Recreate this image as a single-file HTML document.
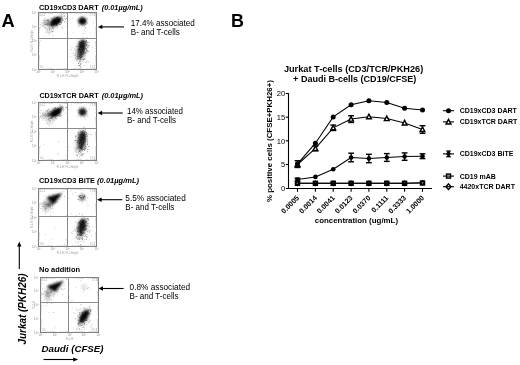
<!DOCTYPE html>
<html><head><meta charset="utf-8"><style>
html,body{margin:0;padding:0;background:#fff;}
svg{display:block;}
text{font-family:"Liberation Sans", Arial, sans-serif;}
</style></head><body>
<svg width="520" height="365" viewBox="0 0 520 365">
<defs><filter id="b0" x="-5%" y="-5%" width="110%" height="110%"><feGaussianBlur stdDeviation="0.35"/></filter><filter id="b1" x="-50%" y="-50%" width="200%" height="200%"><feGaussianBlur stdDeviation="0.9"/></filter><filter id="b2" x="-50%" y="-50%" width="200%" height="200%"><feGaussianBlur stdDeviation="1.6"/></filter></defs>
<rect width="520" height="365" fill="#fff"/>
<text x="1.6" y="26.8" font-size="18.3" font-weight="bold" font-style="normal" text-anchor="start" fill="#000" >A</text>
<text x="231.0" y="26.8" font-size="17.9" font-weight="bold" font-style="normal" text-anchor="start" fill="#000" >B</text>
<text x="39.0" y="9.5" font-size="7.3" font-weight="bold" textLength="59.6" lengthAdjust="spacingAndGlyphs">CD19xCD3 DART</text>
<text x="101.7" y="9.5" font-size="7.3" font-weight="bold" font-style="italic" textLength="41.0" lengthAdjust="spacingAndGlyphs">(0.01µg/mL)</text>
<text x="39.4" y="98.1" font-size="7.3" font-weight="bold" textLength="59.3" lengthAdjust="spacingAndGlyphs">CD19xTCR DART</text>
<text x="101.7" y="98.1" font-size="7.3" font-weight="bold" font-style="italic" textLength="41.4" lengthAdjust="spacingAndGlyphs">(0.01µg/mL)</text>
<text x="39.1" y="183.1" font-size="7.3" font-weight="bold" textLength="55.9" lengthAdjust="spacingAndGlyphs">CD19xCD3 BiTE</text>
<text x="97.1" y="183.1" font-size="7.3" font-weight="bold" font-style="italic" textLength="42.0" lengthAdjust="spacingAndGlyphs">(0.01µg/mL)</text>
<text x="39.0" y="271.8" font-size="7.4" font-weight="bold" textLength="41" lengthAdjust="spacingAndGlyphs">No addition</text>
<text x="130.8" y="26.2" font-size="8.6" font-weight="normal" font-style="normal" text-anchor="start" fill="#000" textLength="64" lengthAdjust="spacingAndGlyphs" >17.4% associated</text>
<text x="130.8" y="35.4" font-size="8.6" font-weight="normal" font-style="normal" text-anchor="start" fill="#000" textLength="49" lengthAdjust="spacingAndGlyphs" >B- and T-cells</text>
<line x1="123.9" y1="26.9" x2="101.3" y2="26.9" stroke="#000" stroke-width="1.1"/>
<polygon points="97.8,26.9 102.3,24.7 102.3,29.099999999999998" fill="#000"/>
<text x="127.0" y="113.8" font-size="8.6" font-weight="normal" font-style="normal" text-anchor="start" fill="#000" textLength="56" lengthAdjust="spacingAndGlyphs" >14% associated</text>
<text x="127.0" y="122.8" font-size="8.6" font-weight="normal" font-style="normal" text-anchor="start" fill="#000" textLength="49" lengthAdjust="spacingAndGlyphs" >B- and T-cells</text>
<line x1="122.7" y1="113.0" x2="101.1" y2="113.0" stroke="#000" stroke-width="1.1"/>
<polygon points="97.6,113.0 102.1,110.8 102.1,115.2" fill="#000"/>
<text x="125.3" y="200.9" font-size="8.6" font-weight="normal" font-style="normal" text-anchor="start" fill="#000" textLength="60.5" lengthAdjust="spacingAndGlyphs" >5.5% associated</text>
<text x="125.3" y="210.1" font-size="8.6" font-weight="normal" font-style="normal" text-anchor="start" fill="#000" textLength="49" lengthAdjust="spacingAndGlyphs" >B- and T-cells</text>
<line x1="122.3" y1="199.7" x2="100.6" y2="199.7" stroke="#000" stroke-width="1.1"/>
<polygon points="97.1,199.7 101.6,197.5 101.6,201.89999999999998" fill="#000"/>
<text x="129.6" y="289.7" font-size="8.6" font-weight="normal" font-style="normal" text-anchor="start" fill="#000" textLength="60.5" lengthAdjust="spacingAndGlyphs" >0.8% associated</text>
<text x="129.6" y="298.7" font-size="8.6" font-weight="normal" font-style="normal" text-anchor="start" fill="#000" textLength="49" lengthAdjust="spacingAndGlyphs" >B- and T-cells</text>
<line x1="123.6" y1="288.5" x2="102.0" y2="288.5" stroke="#000" stroke-width="1.1"/>
<polygon points="98.5,288.5 103.0,286.3 103.0,290.7" fill="#000"/>
<text transform="translate(25.6,344.5) rotate(-90)" font-size="10" font-weight="bold" font-style="italic" textLength="71" lengthAdjust="spacingAndGlyphs">Jurkat (PKH26)</text>
<line x1="19.3" y1="269" x2="19.3" y2="245" stroke="#000" stroke-width="1.1"/>
<polygon points="19.3,241.5 17.2,246.5 21.4,246.5" fill="#000"/>
<text x="41.5" y="351.5" font-size="9.6" font-weight="bold" font-style="italic" text-anchor="start" fill="#000" textLength="62" lengthAdjust="spacingAndGlyphs" >Daudi (CFSE)</text>
<line x1="43.5" y1="359.5" x2="74" y2="359.5" stroke="#000" stroke-width="1.1"/>
<polygon points="78.2,359.5 73.2,357.4 73.2,361.6" fill="#000"/>
<g>
<ellipse cx="51" cy="22" rx="9.5" ry="3.6" transform="rotate(-15 51 22)" fill="#000" fill-opacity="0.25" filter="url(#b2)"/>
<ellipse cx="50" cy="29.5" rx="2.4" ry="4.5" transform="rotate(25 50 29.5)" fill="#000" fill-opacity="0.14" filter="url(#b2)"/>
<ellipse cx="59.5" cy="18.5" rx="4" ry="2" transform="rotate(-40 59.5 18.5)" fill="#000" fill-opacity="0.4" filter="url(#b1)"/>
<polygon points="62,17.6 46.5,23.8 53,26.5" fill="#000" fill-opacity="0.6" filter="url(#b1)"/>
<ellipse cx="56" cy="21.5" rx="5.4" ry="3.7" transform="rotate(-33 56 21.5)" fill="#000" fill-opacity="0.95" filter="url(#b1)"/>
<ellipse cx="82.5" cy="21.2" rx="4.6" ry="4.4" transform="rotate(0 82.5 21.2)" fill="#000" fill-opacity="0.25" filter="url(#b2)"/>
<ellipse cx="82.4" cy="21.1" rx="3.8" ry="3.5" transform="rotate(0 82.4 21.1)" fill="#000" fill-opacity="0.95" filter="url(#b1)"/>
<ellipse cx="81" cy="50" rx="5.5" ry="11.5" transform="rotate(10 81 50)" fill="#000" fill-opacity="0.2" filter="url(#b2)"/>
<ellipse cx="81.5" cy="49" rx="3.3" ry="9" transform="rotate(9 81.5 49)" fill="#000" fill-opacity="0.7" filter="url(#b1)"/>
<ellipse cx="82.2" cy="44.5" rx="3.3" ry="4.5" transform="rotate(8 82.2 44.5)" fill="#000" fill-opacity="0.5" filter="url(#b1)"/>
<path d="M51.1 25.2h.8v.8h-.8zM58.0 18.5h.8v.8h-.8zM47.6 21.3h.8v.8h-.8zM53.8 20.8h.8v.8h-.8zM53.9 16.2h.8v.8h-.8zM60.5 18.9h.8v.8h-.8zM54.5 20.4h.8v.8h-.8zM47.7 23.8h.8v.8h-.8zM55.4 20.0h.8v.8h-.8zM49.4 23.9h.8v.8h-.8zM43.1 19.9h.8v.8h-.8zM52.2 19.7h.8v.8h-.8zM46.1 20.0h.8v.8h-.8zM39.9 24.8h.8v.8h-.8zM55.9 19.8h.8v.8h-.8zM45.2 24.3h.8v.8h-.8zM54.7 20.0h.8v.8h-.8zM54.4 23.5h.8v.8h-.8zM48.1 20.4h.8v.8h-.8zM52.5 22.0h.8v.8h-.8zM56.6 16.9h.8v.8h-.8zM45.0 21.2h.8v.8h-.8zM53.1 19.3h.8v.8h-.8zM59.9 21.5h.8v.8h-.8zM54.5 21.8h.8v.8h-.8zM55.6 17.1h.8v.8h-.8zM54.5 22.3h.8v.8h-.8zM48.8 24.3h.8v.8h-.8zM47.0 22.8h.8v.8h-.8zM51.8 19.3h.8v.8h-.8zM54.0 20.7h.8v.8h-.8zM53.0 19.8h.8v.8h-.8zM57.7 21.5h.8v.8h-.8zM49.2 23.8h.8v.8h-.8zM59.7 24.0h.8v.8h-.8zM39.9 27.0h.8v.8h-.8zM53.1 20.9h.8v.8h-.8zM44.0 26.9h.8v.8h-.8zM41.8 25.7h.8v.8h-.8zM57.8 15.8h.8v.8h-.8zM47.1 19.4h.8v.8h-.8zM52.6 25.2h.8v.8h-.8zM62.5 14.0h.8v.8h-.8zM46.6 24.7h.8v.8h-.8zM61.0 20.2h.8v.8h-.8zM45.1 24.1h.8v.8h-.8zM49.8 21.5h.8v.8h-.8zM45.3 24.3h.8v.8h-.8zM52.0 21.2h.8v.8h-.8zM47.7 19.3h.8v.8h-.8zM47.5 25.8h.8v.8h-.8zM47.8 18.9h.8v.8h-.8zM59.4 20.9h.8v.8h-.8zM64.3 18.3h.8v.8h-.8zM45.9 19.3h.8v.8h-.8zM60.6 25.8h.8v.8h-.8zM44.0 21.9h.8v.8h-.8zM53.5 18.9h.8v.8h-.8zM47.9 21.6h.8v.8h-.8zM52.0 24.3h.8v.8h-.8zM50.7 24.2h.8v.8h-.8zM47.4 23.6h.8v.8h-.8zM55.0 19.1h.8v.8h-.8zM54.3 22.3h.8v.8h-.8zM59.5 21.6h.8v.8h-.8zM56.8 19.9h.8v.8h-.8zM44.8 21.5h.8v.8h-.8zM46.0 20.2h.8v.8h-.8zM46.2 22.8h.8v.8h-.8zM51.5 20.7h.8v.8h-.8zM52.2 24.2h.8v.8h-.8zM53.5 19.4h.8v.8h-.8zM46.4 28.2h.8v.8h-.8zM56.3 25.1h.8v.8h-.8zM63.9 16.2h.8v.8h-.8zM52.9 22.4h.8v.8h-.8zM54.1 22.3h.8v.8h-.8zM51.5 22.1h.8v.8h-.8zM39.7 24.3h.8v.8h-.8zM45.0 23.7h.8v.8h-.8zM47.2 24.3h.8v.8h-.8zM55.7 21.3h.8v.8h-.8zM52.2 21.7h.8v.8h-.8zM46.9 22.4h.8v.8h-.8zM46.9 23.8h.8v.8h-.8zM49.2 32.2h.8v.8h-.8zM45.7 32.2h.8v.8h-.8zM49.2 26.6h.8v.8h-.8zM50.3 27.7h.8v.8h-.8zM51.5 28.1h.8v.8h-.8zM48.6 25.9h.8v.8h-.8zM53.0 31.3h.8v.8h-.8zM47.2 29.0h.8v.8h-.8zM43.9 35.4h.8v.8h-.8zM45.8 30.5h.8v.8h-.8zM53.3 25.0h.8v.8h-.8zM49.3 34.0h.8v.8h-.8zM50.7 31.4h.8v.8h-.8zM52.0 31.4h.8v.8h-.8zM51.0 29.8h.8v.8h-.8zM52.8 27.0h.8v.8h-.8zM52.6 28.8h.8v.8h-.8zM46.9 30.4h.8v.8h-.8zM52.7 35.1h.8v.8h-.8zM47.8 32.2h.8v.8h-.8zM49.1 29.1h.8v.8h-.8zM53.4 21.4h.8v.8h-.8zM51.9 26.3h.8v.8h-.8zM50.4 23.9h.8v.8h-.8zM47.7 25.2h.8v.8h-.8zM85.0 27.0h.8v.8h-.8zM82.4 25.3h.8v.8h-.8zM81.7 16.3h.8v.8h-.8zM82.9 23.3h.8v.8h-.8zM81.2 22.9h.8v.8h-.8zM84.2 19.4h.8v.8h-.8zM78.1 21.3h.8v.8h-.8zM81.9 20.9h.8v.8h-.8zM85.5 27.2h.8v.8h-.8zM81.3 24.1h.8v.8h-.8zM85.3 24.1h.8v.8h-.8zM85.6 20.8h.8v.8h-.8zM84.7 28.1h.8v.8h-.8zM84.9 20.1h.8v.8h-.8zM84.3 25.8h.8v.8h-.8zM83.6 20.3h.8v.8h-.8zM87.1 18.3h.8v.8h-.8zM84.0 22.0h.8v.8h-.8zM78.9 25.7h.8v.8h-.8zM83.5 18.5h.8v.8h-.8zM84.3 20.7h.8v.8h-.8zM76.8 19.9h.8v.8h-.8zM83.3 23.9h.8v.8h-.8zM83.0 22.1h.8v.8h-.8zM83.9 21.4h.8v.8h-.8zM86.0 22.4h.8v.8h-.8zM83.4 23.6h.8v.8h-.8zM79.3 19.9h.8v.8h-.8zM87.1 23.0h.8v.8h-.8zM81.7 23.0h.8v.8h-.8zM81.1 22.8h.8v.8h-.8zM80.5 22.8h.8v.8h-.8zM77.8 26.0h.8v.8h-.8zM81.0 17.3h.8v.8h-.8zM81.8 20.9h.8v.8h-.8zM83.0 18.6h.8v.8h-.8zM83.7 32.9h.8v.8h-.8zM78.7 23.0h.8v.8h-.8zM81.6 22.6h.8v.8h-.8zM77.1 18.5h.8v.8h-.8zM82.6 50.0h.8v.8h-.8zM87.6 45.4h.8v.8h-.8zM79.6 42.4h.8v.8h-.8zM80.9 49.6h.8v.8h-.8zM83.7 51.5h.8v.8h-.8zM78.1 51.2h.8v.8h-.8zM88.3 61.6h.8v.8h-.8zM71.6 47.2h.8v.8h-.8zM77.1 54.4h.8v.8h-.8zM77.7 65.1h.8v.8h-.8zM83.0 57.6h.8v.8h-.8zM81.7 49.8h.8v.8h-.8zM80.4 60.4h.8v.8h-.8zM83.3 47.6h.8v.8h-.8zM85.1 52.3h.8v.8h-.8zM81.8 43.7h.8v.8h-.8zM79.9 44.6h.8v.8h-.8zM70.0 56.3h.8v.8h-.8zM83.3 48.7h.8v.8h-.8zM84.0 54.1h.8v.8h-.8zM85.7 30.7h.8v.8h-.8zM79.5 54.1h.8v.8h-.8zM84.0 65.5h.8v.8h-.8zM87.5 41.7h.8v.8h-.8zM72.6 53.2h.8v.8h-.8zM79.8 57.6h.8v.8h-.8zM80.3 51.7h.8v.8h-.8zM75.2 52.6h.8v.8h-.8zM79.0 52.5h.8v.8h-.8zM82.7 49.4h.8v.8h-.8zM82.1 50.1h.8v.8h-.8zM82.9 54.4h.8v.8h-.8zM79.9 45.0h.8v.8h-.8zM87.2 50.3h.8v.8h-.8zM83.9 53.7h.8v.8h-.8zM80.1 43.8h.8v.8h-.8zM81.1 52.1h.8v.8h-.8zM84.9 40.4h.8v.8h-.8zM79.1 48.9h.8v.8h-.8zM89.8 32.4h.8v.8h-.8zM83.3 46.0h.8v.8h-.8zM83.2 46.4h.8v.8h-.8zM80.1 62.5h.8v.8h-.8zM81.6 53.6h.8v.8h-.8zM83.3 44.3h.8v.8h-.8zM83.2 48.7h.8v.8h-.8zM78.3 49.2h.8v.8h-.8zM79.2 55.8h.8v.8h-.8zM81.6 45.8h.8v.8h-.8zM84.6 58.7h.8v.8h-.8zM84.5 55.6h.8v.8h-.8zM81.2 46.6h.8v.8h-.8zM78.7 57.3h.8v.8h-.8zM83.4 38.4h.8v.8h-.8zM82.8 38.8h.8v.8h-.8zM83.2 40.6h.8v.8h-.8zM76.5 50.2h.8v.8h-.8zM83.0 36.9h.8v.8h-.8zM80.6 67.5h.8v.8h-.8zM73.4 63.4h.8v.8h-.8zM79.3 45.7h.8v.8h-.8zM82.4 38.5h.8v.8h-.8zM84.8 54.7h.8v.8h-.8zM78.8 47.4h.8v.8h-.8zM76.3 46.3h.8v.8h-.8zM86.6 37.1h.8v.8h-.8zM79.3 50.9h.8v.8h-.8zM82.7 61.3h.8v.8h-.8zM80.5 43.9h.8v.8h-.8zM83.1 47.4h.8v.8h-.8zM78.4 58.3h.8v.8h-.8zM86.5 53.1h.8v.8h-.8zM79.5 54.4h.8v.8h-.8zM74.5 48.7h.8v.8h-.8zM74.0 68.2h.8v.8h-.8zM83.3 51.6h.8v.8h-.8zM83.8 30.1h.8v.8h-.8zM81.2 63.3h.8v.8h-.8zM77.5 54.9h.8v.8h-.8zM85.6 38.2h.8v.8h-.8zM82.3 61.2h.8v.8h-.8zM81.9 49.6h.8v.8h-.8zM85.9 38.3h.8v.8h-.8zM79.9 58.4h.8v.8h-.8zM75.3 57.1h.8v.8h-.8zM82.4 33.4h.8v.8h-.8zM82.0 42.3h.8v.8h-.8zM83.7 41.0h.8v.8h-.8zM85.6 44.8h.8v.8h-.8zM83.1 45.5h.8v.8h-.8zM78.2 59.2h.8v.8h-.8zM82.3 47.0h.8v.8h-.8zM75.1 58.4h.8v.8h-.8zM84.0 47.9h.8v.8h-.8zM83.3 42.0h.8v.8h-.8zM78.6 42.9h.8v.8h-.8zM81.8 52.5h.8v.8h-.8zM77.4 55.4h.8v.8h-.8zM83.5 51.8h.8v.8h-.8zM85.0 48.4h.8v.8h-.8zM80.0 53.7h.8v.8h-.8zM79.8 56.2h.8v.8h-.8zM74.7 60.5h.8v.8h-.8zM78.5 48.2h.8v.8h-.8zM75.4 53.9h.8v.8h-.8zM83.9 59.2h.8v.8h-.8zM86.0 38.2h.8v.8h-.8zM78.9 45.9h.8v.8h-.8zM76.2 58.3h.8v.8h-.8zM79.4 59.9h.8v.8h-.8zM80.0 57.1h.8v.8h-.8zM77.2 57.4h.8v.8h-.8zM80.0 61.0h.8v.8h-.8zM80.2 63.2h.8v.8h-.8zM76.3 58.3h.8v.8h-.8zM79.3 56.0h.8v.8h-.8zM77.9 63.0h.8v.8h-.8zM81.2 63.2h.8v.8h-.8zM79.1 59.4h.8v.8h-.8zM81.2 58.9h.8v.8h-.8zM79.7 64.0h.8v.8h-.8zM78.3 58.2h.8v.8h-.8zM79.0 61.8h.8v.8h-.8zM80.0 60.5h.8v.8h-.8zM72.9 32.5h.8v.8h-.8zM81.5 52.4h.8v.8h-.8zM93.1 22.7h.8v.8h-.8zM85.3 37.9h.8v.8h-.8zM92.2 46.9h.8v.8h-.8zM75.1 65.5h.8v.8h-.8zM80.6 19.8h.8v.8h-.8zM72.4 17.9h.8v.8h-.8zM44.1 24.0h.8v.8h-.8zM43.0 25.6h.8v.8h-.8zM82.1 22.5h.8v.8h-.8zM50.8 17.7h.8v.8h-.8zM83.7 25.0h.8v.8h-.8zM65.5 25.8h.8v.8h-.8zM39.9 39.9h.8v.8h-.8zM70.9 49.1h.8v.8h-.8zM64.3 33.5h.8v.8h-.8zM43.6 22.7h.8v.8h-.8zM54.1 18.7h.8v.8h-.8zM56.7 28.0h.8v.8h-.8z" fill="#000" fill-opacity="0.28" filter="url(#b0)"/>
<path d="M80.1 53.3h.9v.9h-.9zM87.1 42.2h.9v.9h-.9zM82.7 51.9h.9v.9h-.9zM76.3 59.3h.9v.9h-.9zM87.6 44.2h.9v.9h-.9zM86.0 50.6h.9v.9h-.9zM79.7 59.1h.9v.9h-.9zM81.9 51.7h.9v.9h-.9zM84.2 58.4h.9v.9h-.9zM85.3 40.9h.9v.9h-.9zM76.4 56.1h.9v.9h-.9zM79.1 50.1h.9v.9h-.9zM79.0 47.9h.9v.9h-.9zM76.7 59.4h.9v.9h-.9zM79.1 48.3h.9v.9h-.9zM79.9 57.2h.9v.9h-.9zM78.0 48.7h.9v.9h-.9zM80.5 52.8h.9v.9h-.9zM83.3 46.7h.9v.9h-.9zM82.6 47.2h.9v.9h-.9zM82.9 49.0h.9v.9h-.9zM79.9 49.1h.9v.9h-.9zM80.2 64.2h.9v.9h-.9zM80.0 51.3h.9v.9h-.9zM78.3 41.2h.9v.9h-.9zM78.8 65.1h.9v.9h-.9zM81.4 57.4h.9v.9h-.9zM74.6 55.1h.9v.9h-.9zM83.4 41.2h.9v.9h-.9zM86.0 40.1h.9v.9h-.9zM83.0 59.3h.9v.9h-.9zM80.8 42.1h.9v.9h-.9zM84.9 42.8h.9v.9h-.9zM85.0 42.2h.9v.9h-.9zM83.6 50.4h.9v.9h-.9zM81.4 43.6h.9v.9h-.9zM81.3 46.8h.9v.9h-.9zM84.6 41.7h.9v.9h-.9zM86.3 48.2h.9v.9h-.9zM77.3 57.9h.9v.9h-.9zM86.1 49.0h.9v.9h-.9zM79.3 49.2h.9v.9h-.9zM80.1 47.2h.9v.9h-.9zM85.2 52.6h.9v.9h-.9zM81.6 51.8h.9v.9h-.9zM80.6 54.9h.9v.9h-.9zM84.2 47.5h.9v.9h-.9zM79.4 65.0h.9v.9h-.9zM82.9 48.5h.9v.9h-.9zM86.9 50.4h.9v.9h-.9zM78.1 53.4h.9v.9h-.9zM79.8 45.9h.9v.9h-.9zM82.6 48.8h.9v.9h-.9zM80.2 45.7h.9v.9h-.9zM78.9 56.7h.9v.9h-.9zM80.3 45.5h.9v.9h-.9zM87.4 46.8h.9v.9h-.9zM84.1 58.6h.9v.9h-.9zM82.7 40.3h.9v.9h-.9zM82.1 54.0h.9v.9h-.9zM84.0 50.4h.9v.9h-.9zM83.3 58.9h.9v.9h-.9zM77.4 58.2h.9v.9h-.9zM82.6 45.9h.9v.9h-.9zM78.9 61.4h.9v.9h-.9zM82.0 48.6h.9v.9h-.9zM81.7 46.1h.9v.9h-.9zM77.0 54.4h.9v.9h-.9zM79.6 46.7h.9v.9h-.9zM80.8 44.6h.9v.9h-.9zM83.1 52.3h.9v.9h-.9zM80.8 43.2h.9v.9h-.9zM79.4 55.5h.9v.9h-.9zM81.7 51.0h.9v.9h-.9zM81.0 47.7h.9v.9h-.9zM86.5 45.1h.9v.9h-.9zM78.8 57.9h.9v.9h-.9zM82.1 49.9h.9v.9h-.9zM80.9 57.2h.9v.9h-.9zM77.9 57.9h.9v.9h-.9zM79.5 44.3h.9v.9h-.9zM82.9 49.7h.9v.9h-.9zM84.1 45.0h.9v.9h-.9zM79.6 42.1h.9v.9h-.9zM77.6 50.9h.9v.9h-.9zM88.8 45.2h.9v.9h-.9zM77.1 56.9h.9v.9h-.9zM85.8 42.6h.9v.9h-.9zM78.8 42.5h.9v.9h-.9zM84.8 48.0h.9v.9h-.9zM79.6 49.0h.9v.9h-.9zM86.1 41.1h.9v.9h-.9zM82.0 40.5h.9v.9h-.9zM85.3 62.1h.9v.9h-.9zM84.2 49.0h.9v.9h-.9zM83.7 41.0h.9v.9h-.9zM78.9 44.4h.9v.9h-.9zM80.1 53.0h.9v.9h-.9zM83.1 51.5h.9v.9h-.9zM78.5 53.5h.9v.9h-.9zM80.1 57.0h.9v.9h-.9zM78.2 63.1h.9v.9h-.9zM83.0 48.4h.9v.9h-.9zM83.4 53.1h.9v.9h-.9zM83.3 46.4h.9v.9h-.9zM81.6 50.8h.9v.9h-.9zM81.1 42.1h.9v.9h-.9zM81.0 55.8h.9v.9h-.9zM82.8 52.9h.9v.9h-.9zM80.3 66.3h.9v.9h-.9zM81.2 56.3h.9v.9h-.9zM86.6 50.6h.9v.9h-.9zM81.2 56.3h.9v.9h-.9zM85.6 52.2h.9v.9h-.9zM82.4 50.2h.9v.9h-.9zM77.4 56.2h.9v.9h-.9zM79.0 49.2h.9v.9h-.9zM78.2 56.0h.9v.9h-.9zM77.6 50.6h.9v.9h-.9zM81.6 59.2h.9v.9h-.9zM83.7 51.4h.9v.9h-.9zM81.9 49.2h.9v.9h-.9zM85.2 45.8h.9v.9h-.9zM83.0 49.2h.9v.9h-.9zM82.5 48.0h.9v.9h-.9zM87.8 46.2h.9v.9h-.9zM82.0 51.4h.9v.9h-.9zM82.7 52.7h.9v.9h-.9zM81.7 56.1h.9v.9h-.9zM77.7 49.0h.9v.9h-.9zM78.2 50.6h.9v.9h-.9zM79.6 42.9h.9v.9h-.9zM80.0 58.5h.9v.9h-.9zM82.8 51.7h.9v.9h-.9zM86.2 44.1h.9v.9h-.9zM76.7 46.0h.9v.9h-.9zM79.7 57.4h.9v.9h-.9zM88.5 41.9h.9v.9h-.9zM86.4 60.6h.9v.9h-.9zM83.4 52.3h.9v.9h-.9zM87.8 51.1h.9v.9h-.9zM80.3 50.3h.9v.9h-.9zM77.6 52.1h.9v.9h-.9zM81.0 51.7h.9v.9h-.9zM83.6 42.9h.9v.9h-.9zM86.0 43.6h.9v.9h-.9zM85.5 39.7h.9v.9h-.9zM83.4 44.5h.9v.9h-.9zM55.2 19.9h.9v.9h-.9zM46.1 24.2h.9v.9h-.9zM57.3 22.8h.9v.9h-.9zM47.3 20.1h.9v.9h-.9zM52.5 23.1h.9v.9h-.9zM52.5 21.1h.9v.9h-.9zM60.8 21.7h.9v.9h-.9zM57.5 17.5h.9v.9h-.9zM56.1 20.9h.9v.9h-.9zM52.0 27.1h.9v.9h-.9zM55.7 20.1h.9v.9h-.9zM62.6 19.8h.9v.9h-.9zM61.1 22.2h.9v.9h-.9zM56.9 16.8h.9v.9h-.9zM56.1 24.8h.9v.9h-.9zM53.2 23.5h.9v.9h-.9zM59.8 23.9h.9v.9h-.9zM62.3 20.4h.9v.9h-.9zM56.8 24.1h.9v.9h-.9zM57.8 19.8h.9v.9h-.9zM62.0 19.3h.9v.9h-.9zM55.1 26.3h.9v.9h-.9zM56.0 23.5h.9v.9h-.9zM50.3 25.2h.9v.9h-.9zM51.0 21.5h.9v.9h-.9zM52.1 31.2h.9v.9h-.9zM55.9 22.4h.9v.9h-.9zM60.1 18.5h.9v.9h-.9zM55.9 17.0h.9v.9h-.9zM56.2 20.0h.9v.9h-.9zM58.2 20.7h.9v.9h-.9zM48.0 20.5h.9v.9h-.9zM53.3 25.7h.9v.9h-.9zM58.3 21.4h.9v.9h-.9zM44.3 20.1h.9v.9h-.9zM53.2 22.2h.9v.9h-.9zM54.3 23.8h.9v.9h-.9zM53.6 19.1h.9v.9h-.9zM52.9 24.0h.9v.9h-.9zM56.2 21.1h.9v.9h-.9zM64.2 15.3h.9v.9h-.9zM55.0 18.9h.9v.9h-.9zM55.5 23.6h.9v.9h-.9zM57.9 19.7h.9v.9h-.9zM57.6 20.7h.9v.9h-.9zM43.9 18.4h.9v.9h-.9zM66.0 17.8h.9v.9h-.9zM53.1 17.6h.9v.9h-.9zM53.3 27.8h.9v.9h-.9zM45.0 27.6h.9v.9h-.9zM59.5 19.7h.9v.9h-.9zM58.6 19.3h.9v.9h-.9zM63.5 13.2h.9v.9h-.9zM51.3 25.5h.9v.9h-.9zM61.3 17.9h.9v.9h-.9zM59.1 17.7h.9v.9h-.9zM53.7 27.7h.9v.9h-.9zM64.3 21.3h.9v.9h-.9zM52.6 19.9h.9v.9h-.9zM51.2 23.8h.9v.9h-.9zM59.0 21.3h.9v.9h-.9zM50.9 25.5h.9v.9h-.9zM56.2 21.7h.9v.9h-.9zM55.6 21.1h.9v.9h-.9zM58.4 20.3h.9v.9h-.9zM55.8 19.3h.9v.9h-.9zM57.3 20.2h.9v.9h-.9zM48.8 27.8h.9v.9h-.9zM56.4 24.3h.9v.9h-.9zM55.2 21.7h.9v.9h-.9zM56.8 21.0h.9v.9h-.9zM51.6 18.4h.9v.9h-.9zM60.5 13.3h.9v.9h-.9zM55.7 23.9h.9v.9h-.9zM58.3 21.9h.9v.9h-.9zM60.8 22.6h.9v.9h-.9zM61.6 27.6h.9v.9h-.9zM52.5 24.5h.9v.9h-.9zM53.8 21.1h.9v.9h-.9zM59.3 24.2h.9v.9h-.9zM52.2 21.6h.9v.9h-.9zM59.6 21.0h.9v.9h-.9zM65.0 19.1h.9v.9h-.9zM56.4 20.2h.9v.9h-.9zM56.5 20.6h.9v.9h-.9zM50.9 24.9h.9v.9h-.9zM55.0 21.4h.9v.9h-.9zM57.0 26.5h.9v.9h-.9zM60.1 22.0h.9v.9h-.9zM52.1 20.6h.9v.9h-.9z" fill="#000" fill-opacity="0.45" filter="url(#b0)"/>
<rect x="38.5" y="12.5" width="58.0" height="57.0" fill="none" stroke="#7a7a7a" stroke-width="1"/>
<line x1="67.5" y1="12.5" x2="67.5" y2="69.5" stroke="#888" stroke-width="1"/>
<line x1="38.5" y1="38.5" x2="96.5" y2="38.5" stroke="#8c8c8c" stroke-width="1"/>
<path d="M42.9 12.5v1.3M42.9 69.5v-1.3M38.5 65.2h1.3M96.5 65.2h-1.3M45.4 12.5v1.3M45.4 69.5v-1.3M38.5 62.7h1.3M96.5 62.7h-1.3M47.2 12.5v1.3M47.2 69.5v-1.3M38.5 60.9h1.3M96.5 60.9h-1.3M48.6 12.5v1.3M48.6 69.5v-1.3M38.5 59.5h1.3M96.5 59.5h-1.3M49.8 12.5v1.3M49.8 69.5v-1.3M38.5 58.4h1.3M96.5 58.4h-1.3M50.8 12.5v1.3M50.8 69.5v-1.3M38.5 57.5h1.3M96.5 57.5h-1.3M51.6 12.5v1.3M51.6 69.5v-1.3M38.5 56.6h1.3M96.5 56.6h-1.3M52.3 12.5v1.3M52.3 69.5v-1.3M38.5 55.9h1.3M96.5 55.9h-1.3M57.4 12.5v1.3M57.4 69.5v-1.3M38.5 51.0h1.3M96.5 51.0h-1.3M59.9 12.5v1.3M59.9 69.5v-1.3M38.5 48.5h1.3M96.5 48.5h-1.3M61.7 12.5v1.3M61.7 69.5v-1.3M38.5 46.7h1.3M96.5 46.7h-1.3M63.1 12.5v1.3M63.1 69.5v-1.3M38.5 45.3h1.3M96.5 45.3h-1.3M64.3 12.5v1.3M64.3 69.5v-1.3M38.5 44.2h1.3M96.5 44.2h-1.3M65.3 12.5v1.3M65.3 69.5v-1.3M38.5 43.2h1.3M96.5 43.2h-1.3M66.1 12.5v1.3M66.1 69.5v-1.3M38.5 42.4h1.3M96.5 42.4h-1.3M66.8 12.5v1.3M66.8 69.5v-1.3M38.5 41.7h1.3M96.5 41.7h-1.3M71.9 12.5v1.3M71.9 69.5v-1.3M38.5 36.7h1.3M96.5 36.7h-1.3M74.4 12.5v1.3M74.4 69.5v-1.3M38.5 34.2h1.3M96.5 34.2h-1.3M76.2 12.5v1.3M76.2 69.5v-1.3M38.5 32.4h1.3M96.5 32.4h-1.3M77.6 12.5v1.3M77.6 69.5v-1.3M38.5 31.0h1.3M96.5 31.0h-1.3M78.8 12.5v1.3M78.8 69.5v-1.3M38.5 29.9h1.3M96.5 29.9h-1.3M79.8 12.5v1.3M79.8 69.5v-1.3M38.5 29.0h1.3M96.5 29.0h-1.3M80.6 12.5v1.3M80.6 69.5v-1.3M38.5 28.1h1.3M96.5 28.1h-1.3M81.3 12.5v1.3M81.3 69.5v-1.3M38.5 27.4h1.3M96.5 27.4h-1.3M86.4 12.5v1.3M86.4 69.5v-1.3M38.5 22.5h1.3M96.5 22.5h-1.3M88.9 12.5v1.3M88.9 69.5v-1.3M38.5 20.0h1.3M96.5 20.0h-1.3M90.7 12.5v1.3M90.7 69.5v-1.3M38.5 18.2h1.3M96.5 18.2h-1.3M92.1 12.5v1.3M92.1 69.5v-1.3M38.5 16.8h1.3M96.5 16.8h-1.3M93.3 12.5v1.3M93.3 69.5v-1.3M38.5 15.7h1.3M96.5 15.7h-1.3M94.3 12.5v1.3M94.3 69.5v-1.3M38.5 14.7h1.3M96.5 14.7h-1.3M95.1 12.5v1.3M95.1 69.5v-1.3M38.5 13.9h1.3M96.5 13.9h-1.3M95.8 12.5v1.3M95.8 69.5v-1.3M38.5 13.2h1.3M96.5 13.2h-1.3" stroke="#aaa" stroke-width="0.5" fill="none"/>
<text x="38.5" y="73.1" font-size="3" fill="#888" text-anchor="middle">10<tspan font-size="2" dy="-1">0</tspan></text>
<text x="36.5" y="70.5" font-size="3" fill="#888" text-anchor="end">10<tspan font-size="2" dy="-1">0</tspan></text>
<text x="53.0" y="73.1" font-size="3" fill="#888" text-anchor="middle">10<tspan font-size="2" dy="-1">1</tspan></text>
<text x="36.5" y="56.2" font-size="3" fill="#888" text-anchor="end">10<tspan font-size="2" dy="-1">1</tspan></text>
<text x="67.5" y="73.1" font-size="3" fill="#888" text-anchor="middle">10<tspan font-size="2" dy="-1">2</tspan></text>
<text x="36.5" y="42.0" font-size="3" fill="#888" text-anchor="end">10<tspan font-size="2" dy="-1">2</tspan></text>
<text x="82.0" y="73.1" font-size="3" fill="#888" text-anchor="middle">10<tspan font-size="2" dy="-1">3</tspan></text>
<text x="36.5" y="27.8" font-size="3" fill="#888" text-anchor="end">10<tspan font-size="2" dy="-1">3</tspan></text>
<text x="96.5" y="73.1" font-size="3" fill="#888" text-anchor="middle">10<tspan font-size="2" dy="-1">4</tspan></text>
<text x="36.5" y="13.5" font-size="3" fill="#888" text-anchor="end">10<tspan font-size="2" dy="-1">4</tspan></text>
<text x="67.5" y="76.5" font-size="2.6" fill="#999" text-anchor="middle">FL1-H: FL1-Height</text>
<text transform="translate(33.0,41.0) rotate(-90)" font-size="2.6" fill="#999" text-anchor="middle">FL2-H: FL2-Height</text>
<g font-size="2.6" fill="#999"><text x="40.1" y="15.8">10.2</text><text x="95.1" y="15.8" text-anchor="end">17.4</text><text x="40.1" y="68.1">0.1</text><text x="95.1" y="68.1" text-anchor="end">72.3</text></g>
</g>
<g>
<ellipse cx="51" cy="113.5" rx="9.5" ry="3.8" transform="rotate(-18 51 113.5)" fill="#000" fill-opacity="0.25" filter="url(#b2)"/>
<ellipse cx="50" cy="120" rx="2.4" ry="4.5" transform="rotate(25 50 120)" fill="#000" fill-opacity="0.14" filter="url(#b2)"/>
<ellipse cx="60" cy="109" rx="4" ry="2" transform="rotate(-40 60 109)" fill="#000" fill-opacity="0.45" filter="url(#b1)"/>
<polygon points="62.5,108.2 46.5,114.8 53,117.8" fill="#000" fill-opacity="0.7" filter="url(#b1)"/>
<ellipse cx="56" cy="112.4" rx="5.4" ry="3.5" transform="rotate(-33 56 112.4)" fill="#000" fill-opacity="0.95" filter="url(#b1)"/>
<ellipse cx="82.5" cy="112" rx="4.6" ry="4.4" transform="rotate(0 82.5 112)" fill="#000" fill-opacity="0.22" filter="url(#b2)"/>
<ellipse cx="82.5" cy="112" rx="3.6" ry="3.4" transform="rotate(0 82.5 112)" fill="#000" fill-opacity="0.88" filter="url(#b1)"/>
<ellipse cx="81.3" cy="141" rx="5.5" ry="11.5" transform="rotate(8 81.3 141)" fill="#000" fill-opacity="0.2" filter="url(#b2)"/>
<ellipse cx="81.7" cy="141" rx="3.3" ry="9.3" transform="rotate(8 81.7 141)" fill="#000" fill-opacity="0.7" filter="url(#b1)"/>
<ellipse cx="82.4" cy="136" rx="3.2" ry="4.5" transform="rotate(8 82.4 136)" fill="#000" fill-opacity="0.5" filter="url(#b1)"/>
<path d="M48.3 114.7h.8v.8h-.8zM47.6 113.8h.8v.8h-.8zM56.6 112.1h.8v.8h-.8zM43.1 114.6h.8v.8h-.8zM45.8 115.4h.8v.8h-.8zM42.1 115.6h.8v.8h-.8zM54.6 112.1h.8v.8h-.8zM43.4 114.0h.8v.8h-.8zM51.2 114.4h.8v.8h-.8zM55.5 111.3h.8v.8h-.8zM42.3 119.7h.8v.8h-.8zM52.3 113.8h.8v.8h-.8zM51.2 110.4h.8v.8h-.8zM48.1 114.8h.8v.8h-.8zM56.9 111.4h.8v.8h-.8zM53.3 115.8h.8v.8h-.8zM56.7 117.9h.8v.8h-.8zM60.5 113.6h.8v.8h-.8zM55.2 108.2h.8v.8h-.8zM56.1 113.1h.8v.8h-.8zM47.0 116.0h.8v.8h-.8zM52.4 111.5h.8v.8h-.8zM49.0 113.1h.8v.8h-.8zM51.2 112.0h.8v.8h-.8zM52.1 107.8h.8v.8h-.8zM46.8 110.1h.8v.8h-.8zM47.2 115.8h.8v.8h-.8zM50.1 113.2h.8v.8h-.8zM51.7 117.1h.8v.8h-.8zM43.3 118.0h.8v.8h-.8zM39.6 115.7h.8v.8h-.8zM50.4 111.1h.8v.8h-.8zM51.9 114.8h.8v.8h-.8zM42.0 115.9h.8v.8h-.8zM46.0 109.7h.8v.8h-.8zM48.1 112.0h.8v.8h-.8zM58.2 108.5h.8v.8h-.8zM60.9 108.6h.8v.8h-.8zM63.3 110.6h.8v.8h-.8zM53.6 114.4h.8v.8h-.8zM57.1 114.9h.8v.8h-.8zM61.3 108.9h.8v.8h-.8zM39.6 109.9h.8v.8h-.8zM48.0 116.1h.8v.8h-.8zM52.6 113.0h.8v.8h-.8zM47.2 112.7h.8v.8h-.8zM48.4 115.0h.8v.8h-.8zM40.2 116.3h.8v.8h-.8zM45.5 114.0h.8v.8h-.8zM42.1 113.0h.8v.8h-.8zM47.6 111.4h.8v.8h-.8zM66.0 107.2h.8v.8h-.8zM45.2 113.6h.8v.8h-.8zM40.9 110.0h.8v.8h-.8zM48.5 114.8h.8v.8h-.8zM39.9 116.8h.8v.8h-.8zM41.9 116.0h.8v.8h-.8zM52.7 113.9h.8v.8h-.8zM52.3 110.9h.8v.8h-.8zM55.5 110.5h.8v.8h-.8zM52.8 114.4h.8v.8h-.8zM46.9 111.1h.8v.8h-.8zM53.2 109.5h.8v.8h-.8zM43.2 112.8h.8v.8h-.8zM55.4 111.3h.8v.8h-.8zM65.1 113.3h.8v.8h-.8zM46.2 114.9h.8v.8h-.8zM54.0 114.5h.8v.8h-.8zM49.3 110.8h.8v.8h-.8zM55.4 113.3h.8v.8h-.8zM40.8 115.5h.8v.8h-.8zM51.7 112.9h.8v.8h-.8zM54.0 114.3h.8v.8h-.8zM53.4 112.1h.8v.8h-.8zM41.4 117.9h.8v.8h-.8zM60.8 115.2h.8v.8h-.8zM49.7 113.5h.8v.8h-.8zM60.7 113.8h.8v.8h-.8zM52.7 114.5h.8v.8h-.8zM45.3 116.5h.8v.8h-.8zM44.3 114.9h.8v.8h-.8zM48.7 112.6h.8v.8h-.8zM52.1 112.6h.8v.8h-.8zM47.6 115.4h.8v.8h-.8zM55.1 114.0h.8v.8h-.8zM44.5 115.3h.8v.8h-.8zM50.4 117.3h.8v.8h-.8zM46.6 119.3h.8v.8h-.8zM45.0 128.3h.8v.8h-.8zM50.1 120.0h.8v.8h-.8zM46.5 127.6h.8v.8h-.8zM48.0 119.5h.8v.8h-.8zM48.3 119.8h.8v.8h-.8zM48.4 125.0h.8v.8h-.8zM46.7 119.6h.8v.8h-.8zM54.5 120.4h.8v.8h-.8zM50.8 117.4h.8v.8h-.8zM44.0 118.3h.8v.8h-.8zM53.4 120.2h.8v.8h-.8zM45.3 120.3h.8v.8h-.8zM48.8 124.7h.8v.8h-.8zM52.5 120.7h.8v.8h-.8zM53.4 114.5h.8v.8h-.8zM52.3 122.6h.8v.8h-.8zM51.1 125.8h.8v.8h-.8zM49.5 120.1h.8v.8h-.8zM50.8 112.4h.8v.8h-.8zM49.5 121.4h.8v.8h-.8zM46.5 122.7h.8v.8h-.8zM49.6 122.7h.8v.8h-.8zM50.6 113.6h.8v.8h-.8zM84.8 113.8h.8v.8h-.8zM82.1 110.7h.8v.8h-.8zM81.6 111.5h.8v.8h-.8zM80.9 105.9h.8v.8h-.8zM84.8 107.5h.8v.8h-.8zM81.5 111.0h.8v.8h-.8zM83.2 107.1h.8v.8h-.8zM86.1 113.9h.8v.8h-.8zM84.8 115.8h.8v.8h-.8zM83.5 115.9h.8v.8h-.8zM86.0 110.4h.8v.8h-.8zM82.2 112.8h.8v.8h-.8zM77.1 110.0h.8v.8h-.8zM80.6 116.7h.8v.8h-.8zM80.5 116.7h.8v.8h-.8zM82.5 107.0h.8v.8h-.8zM89.1 109.1h.8v.8h-.8zM84.4 117.1h.8v.8h-.8zM80.9 108.3h.8v.8h-.8zM85.6 112.2h.8v.8h-.8zM78.8 108.8h.8v.8h-.8zM81.3 114.9h.8v.8h-.8zM81.6 114.0h.8v.8h-.8zM87.5 115.8h.8v.8h-.8zM86.8 115.7h.8v.8h-.8zM77.7 115.7h.8v.8h-.8zM83.5 111.6h.8v.8h-.8zM79.2 107.2h.8v.8h-.8zM79.2 111.9h.8v.8h-.8zM79.0 109.6h.8v.8h-.8zM80.6 114.0h.8v.8h-.8zM81.6 111.6h.8v.8h-.8zM86.5 111.0h.8v.8h-.8zM84.3 108.8h.8v.8h-.8zM82.0 142.1h.8v.8h-.8zM82.3 137.4h.8v.8h-.8zM77.9 138.0h.8v.8h-.8zM78.0 148.9h.8v.8h-.8zM85.8 132.1h.8v.8h-.8zM83.8 137.6h.8v.8h-.8zM83.3 137.5h.8v.8h-.8zM74.5 148.1h.8v.8h-.8zM84.3 131.6h.8v.8h-.8zM75.2 135.6h.8v.8h-.8zM77.4 137.4h.8v.8h-.8zM81.1 153.0h.8v.8h-.8zM77.9 151.6h.8v.8h-.8zM85.6 138.3h.8v.8h-.8zM74.1 146.7h.8v.8h-.8zM84.8 148.0h.8v.8h-.8zM88.3 133.8h.8v.8h-.8zM82.1 139.0h.8v.8h-.8zM86.2 146.6h.8v.8h-.8zM68.6 150.0h.8v.8h-.8zM76.8 146.6h.8v.8h-.8zM79.0 142.7h.8v.8h-.8zM82.9 143.0h.8v.8h-.8zM75.8 151.6h.8v.8h-.8zM82.4 141.2h.8v.8h-.8zM84.2 137.3h.8v.8h-.8zM87.2 144.1h.8v.8h-.8zM81.8 144.1h.8v.8h-.8zM79.5 131.3h.8v.8h-.8zM81.3 144.1h.8v.8h-.8zM85.1 145.5h.8v.8h-.8zM76.6 144.6h.8v.8h-.8zM82.5 149.6h.8v.8h-.8zM83.9 131.7h.8v.8h-.8zM86.1 136.1h.8v.8h-.8zM85.2 129.1h.8v.8h-.8zM84.8 135.4h.8v.8h-.8zM82.3 155.7h.8v.8h-.8zM86.7 132.7h.8v.8h-.8zM79.0 133.7h.8v.8h-.8zM82.8 144.3h.8v.8h-.8zM81.2 143.7h.8v.8h-.8zM82.1 146.6h.8v.8h-.8zM86.9 141.7h.8v.8h-.8zM84.3 126.6h.8v.8h-.8zM77.4 134.8h.8v.8h-.8zM76.6 142.1h.8v.8h-.8zM85.2 138.3h.8v.8h-.8zM80.1 136.8h.8v.8h-.8zM82.2 136.9h.8v.8h-.8zM82.1 143.7h.8v.8h-.8zM81.1 147.3h.8v.8h-.8zM80.9 142.2h.8v.8h-.8zM87.1 141.7h.8v.8h-.8zM83.7 141.9h.8v.8h-.8zM80.1 137.1h.8v.8h-.8zM78.2 140.6h.8v.8h-.8zM79.5 137.3h.8v.8h-.8zM85.4 140.7h.8v.8h-.8zM84.6 143.8h.8v.8h-.8zM84.8 136.7h.8v.8h-.8zM82.5 149.4h.8v.8h-.8zM80.6 147.9h.8v.8h-.8zM78.2 133.6h.8v.8h-.8zM81.3 147.7h.8v.8h-.8zM79.8 139.2h.8v.8h-.8zM80.0 139.2h.8v.8h-.8zM78.8 128.9h.8v.8h-.8zM83.1 127.2h.8v.8h-.8zM78.5 135.1h.8v.8h-.8zM77.0 142.1h.8v.8h-.8zM79.5 140.0h.8v.8h-.8zM78.5 134.4h.8v.8h-.8zM82.2 144.0h.8v.8h-.8zM78.8 143.4h.8v.8h-.8zM81.4 142.2h.8v.8h-.8zM87.0 138.6h.8v.8h-.8zM81.8 144.3h.8v.8h-.8zM81.8 131.4h.8v.8h-.8zM83.0 143.2h.8v.8h-.8zM81.1 140.9h.8v.8h-.8zM82.2 133.7h.8v.8h-.8zM84.4 126.7h.8v.8h-.8zM82.9 128.9h.8v.8h-.8zM78.7 146.1h.8v.8h-.8zM80.7 136.7h.8v.8h-.8zM83.0 138.8h.8v.8h-.8zM80.0 137.2h.8v.8h-.8zM85.2 146.7h.8v.8h-.8zM84.2 131.5h.8v.8h-.8zM84.8 130.7h.8v.8h-.8zM84.1 132.0h.8v.8h-.8zM90.0 128.4h.8v.8h-.8zM84.0 147.6h.8v.8h-.8zM75.1 137.5h.8v.8h-.8zM84.3 150.3h.8v.8h-.8zM75.9 135.4h.8v.8h-.8zM78.3 131.7h.8v.8h-.8zM76.1 154.6h.8v.8h-.8zM81.6 138.8h.8v.8h-.8zM78.8 145.5h.8v.8h-.8zM84.5 133.6h.8v.8h-.8zM87.4 132.8h.8v.8h-.8zM79.3 143.8h.8v.8h-.8zM87.2 138.8h.8v.8h-.8zM80.0 150.9h.8v.8h-.8zM81.4 149.7h.8v.8h-.8zM84.1 143.1h.8v.8h-.8zM79.1 156.6h.8v.8h-.8zM77.8 158.6h.8v.8h-.8zM73.9 151.0h.8v.8h-.8zM80.8 155.1h.8v.8h-.8zM76.6 154.9h.8v.8h-.8zM80.0 152.1h.8v.8h-.8zM79.4 153.4h.8v.8h-.8zM77.6 153.6h.8v.8h-.8zM80.1 150.4h.8v.8h-.8zM77.1 155.8h.8v.8h-.8zM75.4 149.1h.8v.8h-.8zM79.0 153.8h.8v.8h-.8zM77.6 154.2h.8v.8h-.8zM75.9 152.5h.8v.8h-.8zM58.1 141.1h.8v.8h-.8zM43.2 144.4h.8v.8h-.8zM86.8 159.0h.8v.8h-.8zM47.0 122.7h.8v.8h-.8zM55.5 128.5h.8v.8h-.8zM79.9 147.1h.8v.8h-.8zM59.0 115.6h.8v.8h-.8zM67.9 108.9h.8v.8h-.8zM58.0 153.8h.8v.8h-.8zM70.9 104.4h.8v.8h-.8zM57.3 153.6h.8v.8h-.8zM65.1 154.7h.8v.8h-.8zM40.0 112.8h.8v.8h-.8zM40.4 145.8h.8v.8h-.8zM67.9 119.7h.8v.8h-.8zM85.3 118.7h.8v.8h-.8zM95.4 158.6h.8v.8h-.8zM84.5 153.2h.8v.8h-.8zM68.9 146.3h.8v.8h-.8zM75.6 127.9h.8v.8h-.8z" fill="#000" fill-opacity="0.28" filter="url(#b0)"/>
<path d="M85.2 134.3h.9v.9h-.9zM78.3 133.7h.9v.9h-.9zM84.2 133.4h.9v.9h-.9zM84.9 140.8h.9v.9h-.9zM77.9 138.5h.9v.9h-.9zM87.0 135.6h.9v.9h-.9zM77.7 143.3h.9v.9h-.9zM84.0 147.5h.9v.9h-.9zM80.6 141.6h.9v.9h-.9zM81.4 148.2h.9v.9h-.9zM87.2 140.6h.9v.9h-.9zM85.2 138.8h.9v.9h-.9zM83.9 134.7h.9v.9h-.9zM79.2 142.9h.9v.9h-.9zM78.5 145.9h.9v.9h-.9zM80.1 140.8h.9v.9h-.9zM81.7 138.3h.9v.9h-.9zM80.9 147.5h.9v.9h-.9zM90.6 134.0h.9v.9h-.9zM82.5 139.5h.9v.9h-.9zM79.0 142.0h.9v.9h-.9zM79.4 139.7h.9v.9h-.9zM81.8 143.5h.9v.9h-.9zM78.6 143.5h.9v.9h-.9zM82.8 138.4h.9v.9h-.9zM85.9 132.5h.9v.9h-.9zM83.4 139.2h.9v.9h-.9zM79.0 139.0h.9v.9h-.9zM79.9 145.7h.9v.9h-.9zM77.9 138.7h.9v.9h-.9zM79.0 150.5h.9v.9h-.9zM77.7 146.9h.9v.9h-.9zM76.7 142.1h.9v.9h-.9zM80.9 142.9h.9v.9h-.9zM76.4 148.4h.9v.9h-.9zM82.9 135.0h.9v.9h-.9zM84.6 136.0h.9v.9h-.9zM80.8 132.4h.9v.9h-.9zM82.8 153.5h.9v.9h-.9zM78.8 141.9h.9v.9h-.9zM82.2 154.4h.9v.9h-.9zM75.3 140.4h.9v.9h-.9zM84.6 131.1h.9v.9h-.9zM82.4 141.8h.9v.9h-.9zM83.9 136.9h.9v.9h-.9zM83.2 136.6h.9v.9h-.9zM83.0 141.6h.9v.9h-.9zM81.9 131.1h.9v.9h-.9zM84.8 148.1h.9v.9h-.9zM84.4 136.4h.9v.9h-.9zM79.1 151.0h.9v.9h-.9zM84.2 135.1h.9v.9h-.9zM81.5 141.3h.9v.9h-.9zM81.9 134.2h.9v.9h-.9zM84.2 144.6h.9v.9h-.9zM82.5 130.2h.9v.9h-.9zM80.1 140.2h.9v.9h-.9zM84.1 138.3h.9v.9h-.9zM84.3 141.7h.9v.9h-.9zM79.9 130.4h.9v.9h-.9zM80.9 142.5h.9v.9h-.9zM85.2 140.9h.9v.9h-.9zM76.5 155.2h.9v.9h-.9zM82.6 138.9h.9v.9h-.9zM82.1 131.7h.9v.9h-.9zM82.9 143.1h.9v.9h-.9zM84.7 148.2h.9v.9h-.9zM82.7 148.9h.9v.9h-.9zM81.3 137.6h.9v.9h-.9zM82.6 132.5h.9v.9h-.9zM81.5 138.4h.9v.9h-.9zM83.3 140.7h.9v.9h-.9zM76.7 140.1h.9v.9h-.9zM79.6 140.4h.9v.9h-.9zM78.7 136.6h.9v.9h-.9zM82.9 132.2h.9v.9h-.9zM82.0 143.4h.9v.9h-.9zM78.3 140.4h.9v.9h-.9zM84.6 139.9h.9v.9h-.9zM82.2 145.0h.9v.9h-.9zM80.1 146.9h.9v.9h-.9zM83.5 134.5h.9v.9h-.9zM82.2 146.5h.9v.9h-.9zM84.3 136.9h.9v.9h-.9zM81.6 149.7h.9v.9h-.9zM81.2 148.5h.9v.9h-.9zM85.0 141.0h.9v.9h-.9zM83.6 139.2h.9v.9h-.9zM84.5 140.6h.9v.9h-.9zM80.3 140.4h.9v.9h-.9zM81.1 143.3h.9v.9h-.9zM83.9 133.5h.9v.9h-.9zM79.7 142.9h.9v.9h-.9zM82.8 141.6h.9v.9h-.9zM87.4 149.0h.9v.9h-.9zM80.8 145.5h.9v.9h-.9zM84.8 143.7h.9v.9h-.9zM77.1 140.9h.9v.9h-.9zM79.9 154.7h.9v.9h-.9zM75.6 150.3h.9v.9h-.9zM80.4 146.9h.9v.9h-.9zM80.8 142.0h.9v.9h-.9zM84.5 142.0h.9v.9h-.9zM84.5 140.9h.9v.9h-.9zM80.9 139.5h.9v.9h-.9zM80.5 140.1h.9v.9h-.9zM86.3 134.0h.9v.9h-.9zM77.5 140.4h.9v.9h-.9zM85.1 148.4h.9v.9h-.9zM84.0 149.6h.9v.9h-.9zM79.7 141.6h.9v.9h-.9zM75.4 136.2h.9v.9h-.9zM84.7 131.3h.9v.9h-.9zM77.6 132.0h.9v.9h-.9zM81.2 148.8h.9v.9h-.9zM87.1 151.3h.9v.9h-.9zM81.2 148.1h.9v.9h-.9zM78.1 137.3h.9v.9h-.9zM80.6 141.3h.9v.9h-.9zM80.8 144.6h.9v.9h-.9zM84.4 142.2h.9v.9h-.9zM81.9 154.5h.9v.9h-.9zM80.1 134.3h.9v.9h-.9zM81.4 153.5h.9v.9h-.9zM81.2 148.5h.9v.9h-.9zM80.2 147.3h.9v.9h-.9zM79.6 145.6h.9v.9h-.9zM82.5 144.2h.9v.9h-.9zM84.4 148.9h.9v.9h-.9zM79.5 147.1h.9v.9h-.9zM76.6 147.4h.9v.9h-.9zM88.5 146.1h.9v.9h-.9zM83.1 142.3h.9v.9h-.9zM84.4 139.1h.9v.9h-.9zM83.9 140.2h.9v.9h-.9zM80.7 142.4h.9v.9h-.9zM83.3 130.6h.9v.9h-.9zM87.1 143.5h.9v.9h-.9zM76.6 148.2h.9v.9h-.9zM81.6 143.2h.9v.9h-.9zM84.5 136.3h.9v.9h-.9zM74.4 140.1h.9v.9h-.9zM81.6 148.4h.9v.9h-.9zM80.2 139.9h.9v.9h-.9zM83.2 140.0h.9v.9h-.9zM81.0 143.4h.9v.9h-.9zM77.9 151.7h.9v.9h-.9zM79.5 141.7h.9v.9h-.9zM81.7 137.2h.9v.9h-.9zM82.4 148.5h.9v.9h-.9zM85.1 146.1h.9v.9h-.9zM80.0 147.2h.9v.9h-.9zM78.1 141.6h.9v.9h-.9zM82.7 145.6h.9v.9h-.9zM80.3 131.7h.9v.9h-.9zM62.1 107.1h.9v.9h-.9zM48.5 113.5h.9v.9h-.9zM58.4 115.1h.9v.9h-.9zM58.4 115.2h.9v.9h-.9zM58.1 112.9h.9v.9h-.9zM59.7 109.1h.9v.9h-.9zM57.0 110.8h.9v.9h-.9zM55.1 115.5h.9v.9h-.9zM53.5 114.6h.9v.9h-.9zM53.3 114.1h.9v.9h-.9zM56.1 116.2h.9v.9h-.9zM56.8 112.4h.9v.9h-.9zM58.2 101.5h.9v.9h-.9zM48.0 108.7h.9v.9h-.9zM57.0 113.4h.9v.9h-.9zM59.1 111.4h.9v.9h-.9zM55.7 118.6h.9v.9h-.9zM57.0 111.0h.9v.9h-.9zM52.6 116.1h.9v.9h-.9zM53.7 112.5h.9v.9h-.9zM57.3 112.4h.9v.9h-.9zM55.0 117.3h.9v.9h-.9zM50.7 112.2h.9v.9h-.9zM57.5 111.9h.9v.9h-.9zM55.8 111.3h.9v.9h-.9zM55.4 111.0h.9v.9h-.9zM51.0 118.2h.9v.9h-.9zM51.9 114.3h.9v.9h-.9zM58.9 110.7h.9v.9h-.9zM64.3 102.4h.9v.9h-.9zM53.4 114.4h.9v.9h-.9zM60.8 108.5h.9v.9h-.9zM52.4 118.6h.9v.9h-.9zM52.3 114.2h.9v.9h-.9zM58.4 108.7h.9v.9h-.9zM55.1 114.6h.9v.9h-.9zM55.7 113.6h.9v.9h-.9zM52.3 114.4h.9v.9h-.9zM49.6 111.4h.9v.9h-.9zM63.4 109.2h.9v.9h-.9zM58.0 107.9h.9v.9h-.9zM55.6 112.0h.9v.9h-.9zM51.5 117.2h.9v.9h-.9zM53.0 113.7h.9v.9h-.9zM51.8 118.4h.9v.9h-.9zM59.5 111.5h.9v.9h-.9zM51.8 113.4h.9v.9h-.9zM60.2 108.8h.9v.9h-.9zM57.2 112.1h.9v.9h-.9zM54.1 118.7h.9v.9h-.9zM48.9 117.8h.9v.9h-.9zM53.2 108.8h.9v.9h-.9zM58.1 112.8h.9v.9h-.9zM55.0 110.3h.9v.9h-.9zM59.4 113.9h.9v.9h-.9zM59.5 115.9h.9v.9h-.9zM60.4 112.1h.9v.9h-.9zM60.3 107.4h.9v.9h-.9zM54.8 114.9h.9v.9h-.9zM60.3 114.7h.9v.9h-.9zM60.6 110.0h.9v.9h-.9zM56.4 111.2h.9v.9h-.9zM54.0 112.2h.9v.9h-.9zM58.8 109.1h.9v.9h-.9zM55.0 113.6h.9v.9h-.9zM53.8 113.1h.9v.9h-.9zM48.4 118.6h.9v.9h-.9zM55.3 113.6h.9v.9h-.9zM54.7 107.1h.9v.9h-.9zM65.5 106.9h.9v.9h-.9zM54.2 107.8h.9v.9h-.9zM59.4 111.9h.9v.9h-.9zM55.5 113.9h.9v.9h-.9zM60.9 108.5h.9v.9h-.9zM55.3 117.7h.9v.9h-.9zM57.5 111.3h.9v.9h-.9zM65.7 107.1h.9v.9h-.9zM56.5 113.4h.9v.9h-.9zM55.6 113.9h.9v.9h-.9zM56.3 110.5h.9v.9h-.9zM56.3 113.7h.9v.9h-.9zM59.1 112.8h.9v.9h-.9zM60.1 111.0h.9v.9h-.9zM58.1 110.2h.9v.9h-.9zM57.3 115.4h.9v.9h-.9zM49.8 118.1h.9v.9h-.9zM65.7 100.3h.9v.9h-.9zM59.6 104.6h.9v.9h-.9zM60.4 115.3h.9v.9h-.9zM60.7 106.6h.9v.9h-.9z" fill="#000" fill-opacity="0.45" filter="url(#b0)"/>
<rect x="38.5" y="102.5" width="58.0" height="58.0" fill="none" stroke="#7a7a7a" stroke-width="1"/>
<line x1="67.5" y1="102.5" x2="67.5" y2="160.5" stroke="#888" stroke-width="1"/>
<line x1="38.5" y1="128.5" x2="96.5" y2="128.5" stroke="#8c8c8c" stroke-width="1"/>
<path d="M42.9 102.5v1.3M42.9 160.5v-1.3M38.5 156.1h1.3M96.5 156.1h-1.3M45.4 102.5v1.3M45.4 160.5v-1.3M38.5 153.6h1.3M96.5 153.6h-1.3M47.2 102.5v1.3M47.2 160.5v-1.3M38.5 151.8h1.3M96.5 151.8h-1.3M48.6 102.5v1.3M48.6 160.5v-1.3M38.5 150.4h1.3M96.5 150.4h-1.3M49.8 102.5v1.3M49.8 160.5v-1.3M38.5 149.2h1.3M96.5 149.2h-1.3M50.8 102.5v1.3M50.8 160.5v-1.3M38.5 148.2h1.3M96.5 148.2h-1.3M51.6 102.5v1.3M51.6 160.5v-1.3M38.5 147.4h1.3M96.5 147.4h-1.3M52.3 102.5v1.3M52.3 160.5v-1.3M38.5 146.7h1.3M96.5 146.7h-1.3M57.4 102.5v1.3M57.4 160.5v-1.3M38.5 141.6h1.3M96.5 141.6h-1.3M59.9 102.5v1.3M59.9 160.5v-1.3M38.5 139.1h1.3M96.5 139.1h-1.3M61.7 102.5v1.3M61.7 160.5v-1.3M38.5 137.3h1.3M96.5 137.3h-1.3M63.1 102.5v1.3M63.1 160.5v-1.3M38.5 135.9h1.3M96.5 135.9h-1.3M64.3 102.5v1.3M64.3 160.5v-1.3M38.5 134.7h1.3M96.5 134.7h-1.3M65.3 102.5v1.3M65.3 160.5v-1.3M38.5 133.7h1.3M96.5 133.7h-1.3M66.1 102.5v1.3M66.1 160.5v-1.3M38.5 132.9h1.3M96.5 132.9h-1.3M66.8 102.5v1.3M66.8 160.5v-1.3M38.5 132.2h1.3M96.5 132.2h-1.3M71.9 102.5v1.3M71.9 160.5v-1.3M38.5 127.1h1.3M96.5 127.1h-1.3M74.4 102.5v1.3M74.4 160.5v-1.3M38.5 124.6h1.3M96.5 124.6h-1.3M76.2 102.5v1.3M76.2 160.5v-1.3M38.5 122.8h1.3M96.5 122.8h-1.3M77.6 102.5v1.3M77.6 160.5v-1.3M38.5 121.4h1.3M96.5 121.4h-1.3M78.8 102.5v1.3M78.8 160.5v-1.3M38.5 120.2h1.3M96.5 120.2h-1.3M79.8 102.5v1.3M79.8 160.5v-1.3M38.5 119.2h1.3M96.5 119.2h-1.3M80.6 102.5v1.3M80.6 160.5v-1.3M38.5 118.4h1.3M96.5 118.4h-1.3M81.3 102.5v1.3M81.3 160.5v-1.3M38.5 117.7h1.3M96.5 117.7h-1.3M86.4 102.5v1.3M86.4 160.5v-1.3M38.5 112.6h1.3M96.5 112.6h-1.3M88.9 102.5v1.3M88.9 160.5v-1.3M38.5 110.1h1.3M96.5 110.1h-1.3M90.7 102.5v1.3M90.7 160.5v-1.3M38.5 108.3h1.3M96.5 108.3h-1.3M92.1 102.5v1.3M92.1 160.5v-1.3M38.5 106.9h1.3M96.5 106.9h-1.3M93.3 102.5v1.3M93.3 160.5v-1.3M38.5 105.7h1.3M96.5 105.7h-1.3M94.3 102.5v1.3M94.3 160.5v-1.3M38.5 104.7h1.3M96.5 104.7h-1.3M95.1 102.5v1.3M95.1 160.5v-1.3M38.5 103.9h1.3M96.5 103.9h-1.3M95.8 102.5v1.3M95.8 160.5v-1.3M38.5 103.2h1.3M96.5 103.2h-1.3" stroke="#aaa" stroke-width="0.5" fill="none"/>
<text x="38.5" y="164.1" font-size="3" fill="#888" text-anchor="middle">10<tspan font-size="2" dy="-1">0</tspan></text>
<text x="36.5" y="161.5" font-size="3" fill="#888" text-anchor="end">10<tspan font-size="2" dy="-1">0</tspan></text>
<text x="53.0" y="164.1" font-size="3" fill="#888" text-anchor="middle">10<tspan font-size="2" dy="-1">1</tspan></text>
<text x="36.5" y="147.0" font-size="3" fill="#888" text-anchor="end">10<tspan font-size="2" dy="-1">1</tspan></text>
<text x="67.5" y="164.1" font-size="3" fill="#888" text-anchor="middle">10<tspan font-size="2" dy="-1">2</tspan></text>
<text x="36.5" y="132.5" font-size="3" fill="#888" text-anchor="end">10<tspan font-size="2" dy="-1">2</tspan></text>
<text x="82.0" y="164.1" font-size="3" fill="#888" text-anchor="middle">10<tspan font-size="2" dy="-1">3</tspan></text>
<text x="36.5" y="118.0" font-size="3" fill="#888" text-anchor="end">10<tspan font-size="2" dy="-1">3</tspan></text>
<text x="96.5" y="164.1" font-size="3" fill="#888" text-anchor="middle">10<tspan font-size="2" dy="-1">4</tspan></text>
<text x="36.5" y="103.5" font-size="3" fill="#888" text-anchor="end">10<tspan font-size="2" dy="-1">4</tspan></text>
<text x="67.5" y="167.5" font-size="2.6" fill="#999" text-anchor="middle">FL1-H: FL1-Height</text>
<text transform="translate(33.0,131.5) rotate(-90)" font-size="2.6" fill="#999" text-anchor="middle">FL2-H: FL2-Height</text>
<g font-size="2.6" fill="#999"><text x="40.1" y="105.8">10.2</text><text x="95.1" y="105.8" text-anchor="end">17.4</text><text x="40.1" y="159.1">0.1</text><text x="95.1" y="159.1" text-anchor="end">72.3</text></g>
</g>
<g>
<ellipse cx="51" cy="201" rx="10" ry="4.5" transform="rotate(-35 51 201)" fill="#000" fill-opacity="0.22" filter="url(#b2)"/>
<ellipse cx="47" cy="207" rx="3" ry="5" transform="rotate(25 47 207)" fill="#000" fill-opacity="0.14" filter="url(#b2)"/>
<polygon points="62.5,193 46.5,197.5 53.5,204" fill="#000" fill-opacity="0.95" filter="url(#b1)"/>
<ellipse cx="51" cy="203" rx="5" ry="2.5" transform="rotate(-45 51 203)" fill="#000" fill-opacity="0.35" filter="url(#b1)"/>
<ellipse cx="82.4" cy="197.5" rx="3.3" ry="3.2" transform="rotate(0 82.4 197.5)" fill="#000" fill-opacity="0.4" filter="url(#b1)"/>
<ellipse cx="81.8" cy="228" rx="5.3" ry="10" transform="rotate(10 81.8 228)" fill="#000" fill-opacity="0.2" filter="url(#b2)"/>
<ellipse cx="81.8" cy="227" rx="3.5" ry="8.2" transform="rotate(12 81.8 227)" fill="#000" fill-opacity="0.72" filter="url(#b1)"/>
<ellipse cx="82.5" cy="224" rx="3.2" ry="4.5" transform="rotate(12 82.5 224)" fill="#000" fill-opacity="0.5" filter="url(#b1)"/>
<path d="M41.7 202.5h.8v.8h-.8zM55.0 197.0h.8v.8h-.8zM52.0 201.5h.8v.8h-.8zM54.7 200.6h.8v.8h-.8zM49.3 196.5h.8v.8h-.8zM57.4 194.5h.8v.8h-.8zM49.3 200.4h.8v.8h-.8zM49.2 202.4h.8v.8h-.8zM47.8 199.4h.8v.8h-.8zM55.2 196.1h.8v.8h-.8zM58.7 195.2h.8v.8h-.8zM48.0 204.8h.8v.8h-.8zM54.8 195.1h.8v.8h-.8zM52.1 205.6h.8v.8h-.8zM44.1 202.9h.8v.8h-.8zM50.1 197.3h.8v.8h-.8zM54.5 201.0h.8v.8h-.8zM55.3 199.5h.8v.8h-.8zM45.4 207.6h.8v.8h-.8zM56.7 194.6h.8v.8h-.8zM56.1 196.3h.8v.8h-.8zM53.0 201.1h.8v.8h-.8zM45.3 210.5h.8v.8h-.8zM46.2 204.1h.8v.8h-.8zM49.3 204.0h.8v.8h-.8zM53.8 199.3h.8v.8h-.8zM59.9 196.0h.8v.8h-.8zM44.1 195.5h.8v.8h-.8zM49.2 201.4h.8v.8h-.8zM44.8 202.3h.8v.8h-.8zM56.5 201.1h.8v.8h-.8zM64.1 196.1h.8v.8h-.8zM47.7 204.4h.8v.8h-.8zM44.7 208.2h.8v.8h-.8zM52.3 198.0h.8v.8h-.8zM50.3 200.7h.8v.8h-.8zM49.9 206.7h.8v.8h-.8zM70.5 190.5h.8v.8h-.8zM57.7 197.1h.8v.8h-.8zM53.1 207.7h.8v.8h-.8zM49.9 203.4h.8v.8h-.8zM51.7 202.9h.8v.8h-.8zM52.1 202.6h.8v.8h-.8zM43.9 205.8h.8v.8h-.8zM57.4 192.9h.8v.8h-.8zM49.8 207.0h.8v.8h-.8zM55.5 201.9h.8v.8h-.8zM41.6 202.6h.8v.8h-.8zM55.7 202.2h.8v.8h-.8zM40.8 204.2h.8v.8h-.8zM47.7 203.0h.8v.8h-.8zM47.5 211.8h.8v.8h-.8zM54.0 197.7h.8v.8h-.8zM52.3 208.8h.8v.8h-.8zM63.3 190.7h.8v.8h-.8zM55.4 202.6h.8v.8h-.8zM43.4 204.3h.8v.8h-.8zM57.8 193.8h.8v.8h-.8zM46.4 199.4h.8v.8h-.8zM48.0 205.7h.8v.8h-.8zM44.2 201.1h.8v.8h-.8zM50.6 207.9h.8v.8h-.8zM51.2 198.9h.8v.8h-.8zM52.8 201.4h.8v.8h-.8zM48.7 196.0h.8v.8h-.8zM52.5 199.2h.8v.8h-.8zM53.6 194.2h.8v.8h-.8zM56.3 195.5h.8v.8h-.8zM43.5 211.2h.8v.8h-.8zM48.7 204.0h.8v.8h-.8zM52.0 204.3h.8v.8h-.8zM59.3 199.3h.8v.8h-.8zM52.4 194.1h.8v.8h-.8zM41.7 208.3h.8v.8h-.8zM46.3 206.0h.8v.8h-.8zM49.5 196.8h.8v.8h-.8zM43.0 202.4h.8v.8h-.8zM45.5 204.1h.8v.8h-.8zM57.2 201.6h.8v.8h-.8zM44.4 203.5h.8v.8h-.8zM61.5 196.9h.8v.8h-.8zM48.3 194.2h.8v.8h-.8zM45.4 205.5h.8v.8h-.8zM51.0 208.3h.8v.8h-.8zM52.0 201.3h.8v.8h-.8zM42.8 202.9h.8v.8h-.8zM46.0 202.2h.8v.8h-.8zM45.7 208.1h.8v.8h-.8zM45.9 211.0h.8v.8h-.8zM42.9 206.0h.8v.8h-.8zM44.9 213.1h.8v.8h-.8zM45.8 207.9h.8v.8h-.8zM44.0 207.5h.8v.8h-.8zM49.2 205.2h.8v.8h-.8zM45.8 206.3h.8v.8h-.8zM50.6 203.5h.8v.8h-.8zM50.0 206.9h.8v.8h-.8zM49.7 214.8h.8v.8h-.8zM47.0 204.2h.8v.8h-.8zM52.7 212.4h.8v.8h-.8zM49.3 206.2h.8v.8h-.8zM45.3 209.8h.8v.8h-.8zM50.1 204.7h.8v.8h-.8zM49.9 209.7h.8v.8h-.8zM42.7 209.4h.8v.8h-.8zM45.2 209.6h.8v.8h-.8zM44.9 207.6h.8v.8h-.8zM41.9 206.3h.8v.8h-.8zM42.5 205.6h.8v.8h-.8zM40.1 203.5h.8v.8h-.8zM48.2 209.7h.8v.8h-.8zM52.1 204.6h.8v.8h-.8zM87.1 202.4h.8v.8h-.8zM78.8 195.1h.8v.8h-.8zM80.7 197.4h.8v.8h-.8zM83.0 190.0h.8v.8h-.8zM84.2 196.7h.8v.8h-.8zM79.3 200.4h.8v.8h-.8zM81.3 200.9h.8v.8h-.8zM84.0 196.5h.8v.8h-.8zM85.9 199.9h.8v.8h-.8zM80.9 192.6h.8v.8h-.8zM80.7 199.4h.8v.8h-.8zM81.7 202.8h.8v.8h-.8zM83.2 198.1h.8v.8h-.8zM83.6 194.8h.8v.8h-.8zM82.0 195.5h.8v.8h-.8zM75.3 192.1h.8v.8h-.8zM84.6 196.1h.8v.8h-.8zM82.0 193.0h.8v.8h-.8zM80.6 199.9h.8v.8h-.8zM82.7 195.9h.8v.8h-.8zM87.0 197.3h.8v.8h-.8zM81.3 200.9h.8v.8h-.8zM77.1 199.2h.8v.8h-.8zM79.0 195.1h.8v.8h-.8zM80.3 197.9h.8v.8h-.8zM81.8 230.1h.8v.8h-.8zM80.8 237.8h.8v.8h-.8zM86.8 233.9h.8v.8h-.8zM84.9 225.8h.8v.8h-.8zM77.2 231.4h.8v.8h-.8zM80.9 233.9h.8v.8h-.8zM72.2 245.5h.8v.8h-.8zM77.3 227.4h.8v.8h-.8zM86.9 219.0h.8v.8h-.8zM82.3 213.6h.8v.8h-.8zM79.2 213.6h.8v.8h-.8zM81.8 230.1h.8v.8h-.8zM79.1 236.6h.8v.8h-.8zM86.6 228.8h.8v.8h-.8zM81.4 225.9h.8v.8h-.8zM78.6 236.8h.8v.8h-.8zM83.0 225.8h.8v.8h-.8zM80.3 231.6h.8v.8h-.8zM80.0 229.9h.8v.8h-.8zM80.0 237.4h.8v.8h-.8zM87.6 218.9h.8v.8h-.8zM80.4 232.8h.8v.8h-.8zM79.3 233.4h.8v.8h-.8zM82.2 232.3h.8v.8h-.8zM81.2 230.1h.8v.8h-.8zM85.4 218.1h.8v.8h-.8zM79.9 220.4h.8v.8h-.8zM87.3 231.1h.8v.8h-.8zM82.9 229.5h.8v.8h-.8zM80.9 222.5h.8v.8h-.8zM85.2 226.0h.8v.8h-.8zM87.0 230.4h.8v.8h-.8zM82.4 226.6h.8v.8h-.8zM81.5 228.2h.8v.8h-.8zM84.2 245.2h.8v.8h-.8zM77.5 229.1h.8v.8h-.8zM85.4 222.2h.8v.8h-.8zM80.2 224.5h.8v.8h-.8zM72.7 231.1h.8v.8h-.8zM81.8 227.4h.8v.8h-.8zM81.8 229.8h.8v.8h-.8zM89.6 230.7h.8v.8h-.8zM85.3 225.0h.8v.8h-.8zM83.4 226.1h.8v.8h-.8zM82.4 221.7h.8v.8h-.8zM78.4 230.7h.8v.8h-.8zM83.8 231.7h.8v.8h-.8zM79.1 229.9h.8v.8h-.8zM71.9 233.1h.8v.8h-.8zM81.4 230.0h.8v.8h-.8zM86.4 225.9h.8v.8h-.8zM85.7 225.7h.8v.8h-.8zM84.2 225.6h.8v.8h-.8zM81.1 238.4h.8v.8h-.8zM80.3 223.5h.8v.8h-.8zM80.3 230.0h.8v.8h-.8zM92.1 225.9h.8v.8h-.8zM75.6 222.4h.8v.8h-.8zM77.1 223.4h.8v.8h-.8zM83.1 221.6h.8v.8h-.8zM81.8 214.9h.8v.8h-.8zM83.4 223.2h.8v.8h-.8zM84.3 236.2h.8v.8h-.8zM79.3 225.1h.8v.8h-.8zM81.1 233.5h.8v.8h-.8zM76.2 226.7h.8v.8h-.8zM88.4 228.8h.8v.8h-.8zM82.6 228.4h.8v.8h-.8zM76.6 234.1h.8v.8h-.8zM82.6 229.6h.8v.8h-.8zM83.4 234.2h.8v.8h-.8zM74.8 230.5h.8v.8h-.8zM79.7 229.1h.8v.8h-.8zM80.5 221.9h.8v.8h-.8zM85.2 228.9h.8v.8h-.8zM81.3 226.2h.8v.8h-.8zM82.2 228.3h.8v.8h-.8zM74.8 220.9h.8v.8h-.8zM80.2 233.4h.8v.8h-.8zM87.8 222.8h.8v.8h-.8zM88.5 230.3h.8v.8h-.8zM84.3 225.1h.8v.8h-.8zM78.1 238.1h.8v.8h-.8zM81.3 227.7h.8v.8h-.8zM83.9 241.2h.8v.8h-.8zM77.0 226.4h.8v.8h-.8zM79.7 241.1h.8v.8h-.8zM90.6 229.8h.8v.8h-.8zM82.2 234.9h.8v.8h-.8zM86.4 227.2h.8v.8h-.8zM85.8 224.4h.8v.8h-.8zM74.4 217.5h.8v.8h-.8zM81.8 234.3h.8v.8h-.8zM76.4 214.9h.8v.8h-.8zM86.0 205.4h.8v.8h-.8zM82.7 236.3h.8v.8h-.8zM70.8 232.3h.8v.8h-.8zM79.7 238.6h.8v.8h-.8zM83.3 227.4h.8v.8h-.8zM81.3 235.5h.8v.8h-.8zM78.6 239.5h.8v.8h-.8zM75.4 240.8h.8v.8h-.8zM78.3 244.9h.8v.8h-.8zM78.2 239.1h.8v.8h-.8zM77.0 241.6h.8v.8h-.8zM77.9 237.3h.8v.8h-.8zM81.5 244.8h.8v.8h-.8zM77.4 236.4h.8v.8h-.8zM80.6 236.9h.8v.8h-.8zM84.0 239.0h.8v.8h-.8zM80.2 235.5h.8v.8h-.8zM78.2 242.7h.8v.8h-.8zM79.2 237.8h.8v.8h-.8zM83.2 241.7h.8v.8h-.8zM77.8 237.6h.8v.8h-.8zM54.7 227.2h.8v.8h-.8zM66.2 215.0h.8v.8h-.8zM70.7 213.4h.8v.8h-.8zM68.4 198.2h.8v.8h-.8zM91.2 193.4h.8v.8h-.8zM65.1 239.0h.8v.8h-.8zM88.6 223.0h.8v.8h-.8zM45.7 208.9h.8v.8h-.8zM51.3 238.8h.8v.8h-.8zM49.3 196.0h.8v.8h-.8zM49.7 211.8h.8v.8h-.8zM72.3 193.6h.8v.8h-.8zM45.2 233.9h.8v.8h-.8zM77.2 238.9h.8v.8h-.8zM88.3 205.4h.8v.8h-.8zM91.2 235.3h.8v.8h-.8zM42.6 242.8h.8v.8h-.8zM53.3 202.4h.8v.8h-.8zM64.2 243.6h.8v.8h-.8zM40.3 208.3h.8v.8h-.8z" fill="#000" fill-opacity="0.28" filter="url(#b0)"/>
<path d="M82.8 226.5h.9v.9h-.9zM79.3 231.0h.9v.9h-.9zM81.8 226.9h.9v.9h-.9zM85.3 226.0h.9v.9h-.9zM80.8 230.5h.9v.9h-.9zM85.1 227.7h.9v.9h-.9zM82.4 228.4h.9v.9h-.9zM82.1 237.6h.9v.9h-.9zM79.7 226.7h.9v.9h-.9zM81.1 231.6h.9v.9h-.9zM86.0 228.8h.9v.9h-.9zM81.1 235.1h.9v.9h-.9zM79.7 222.6h.9v.9h-.9zM80.8 227.7h.9v.9h-.9zM83.3 225.0h.9v.9h-.9zM87.6 224.7h.9v.9h-.9zM80.0 234.6h.9v.9h-.9zM84.1 228.4h.9v.9h-.9zM81.9 233.2h.9v.9h-.9zM81.1 232.0h.9v.9h-.9zM79.5 227.9h.9v.9h-.9zM78.8 221.6h.9v.9h-.9zM77.3 235.0h.9v.9h-.9zM80.4 229.5h.9v.9h-.9zM79.8 226.2h.9v.9h-.9zM82.4 222.5h.9v.9h-.9zM86.5 218.2h.9v.9h-.9zM80.2 244.6h.9v.9h-.9zM79.7 227.6h.9v.9h-.9zM77.8 226.8h.9v.9h-.9zM76.5 230.7h.9v.9h-.9zM80.1 232.8h.9v.9h-.9zM82.4 220.1h.9v.9h-.9zM79.5 227.8h.9v.9h-.9zM74.6 229.7h.9v.9h-.9zM87.2 218.0h.9v.9h-.9zM79.8 234.6h.9v.9h-.9zM80.3 220.0h.9v.9h-.9zM82.2 224.0h.9v.9h-.9zM81.2 224.0h.9v.9h-.9zM82.5 221.9h.9v.9h-.9zM82.7 227.4h.9v.9h-.9zM76.7 238.0h.9v.9h-.9zM77.5 231.1h.9v.9h-.9zM79.4 229.1h.9v.9h-.9zM82.1 232.9h.9v.9h-.9zM86.8 222.9h.9v.9h-.9zM89.0 231.5h.9v.9h-.9zM81.5 218.5h.9v.9h-.9zM86.0 238.9h.9v.9h-.9zM80.8 232.1h.9v.9h-.9zM85.3 228.8h.9v.9h-.9zM80.8 227.0h.9v.9h-.9zM84.1 228.1h.9v.9h-.9zM77.6 231.5h.9v.9h-.9zM78.2 221.9h.9v.9h-.9zM84.9 229.7h.9v.9h-.9zM82.4 228.3h.9v.9h-.9zM84.8 227.8h.9v.9h-.9zM76.3 227.9h.9v.9h-.9zM84.8 234.9h.9v.9h-.9zM80.7 226.8h.9v.9h-.9zM80.8 233.7h.9v.9h-.9zM81.0 221.6h.9v.9h-.9zM80.0 228.0h.9v.9h-.9zM83.1 225.2h.9v.9h-.9zM85.3 221.6h.9v.9h-.9zM82.6 223.1h.9v.9h-.9zM77.6 234.5h.9v.9h-.9zM82.4 221.0h.9v.9h-.9zM83.3 221.3h.9v.9h-.9zM82.4 233.1h.9v.9h-.9zM86.1 221.5h.9v.9h-.9zM79.1 238.8h.9v.9h-.9zM79.7 235.2h.9v.9h-.9zM87.8 219.8h.9v.9h-.9zM84.2 232.9h.9v.9h-.9zM82.0 238.5h.9v.9h-.9zM83.0 228.3h.9v.9h-.9zM84.0 225.7h.9v.9h-.9zM87.3 225.2h.9v.9h-.9zM82.9 229.7h.9v.9h-.9zM82.0 228.2h.9v.9h-.9zM84.2 217.4h.9v.9h-.9zM78.9 234.6h.9v.9h-.9zM80.5 220.4h.9v.9h-.9zM86.0 236.2h.9v.9h-.9zM86.1 228.3h.9v.9h-.9zM81.6 232.4h.9v.9h-.9zM83.5 227.3h.9v.9h-.9zM78.9 222.1h.9v.9h-.9zM75.8 236.3h.9v.9h-.9zM81.0 226.1h.9v.9h-.9zM82.6 227.7h.9v.9h-.9zM84.1 223.8h.9v.9h-.9zM75.5 237.3h.9v.9h-.9zM80.6 224.0h.9v.9h-.9zM80.4 223.5h.9v.9h-.9zM80.9 231.9h.9v.9h-.9zM78.6 228.5h.9v.9h-.9zM78.5 234.3h.9v.9h-.9zM78.4 227.2h.9v.9h-.9zM85.6 219.3h.9v.9h-.9zM82.0 228.2h.9v.9h-.9zM80.0 225.4h.9v.9h-.9zM84.2 229.3h.9v.9h-.9zM81.0 225.7h.9v.9h-.9zM81.4 235.2h.9v.9h-.9zM83.0 232.1h.9v.9h-.9zM88.0 218.6h.9v.9h-.9zM80.7 231.7h.9v.9h-.9zM79.0 222.3h.9v.9h-.9zM80.2 231.4h.9v.9h-.9zM77.4 228.2h.9v.9h-.9zM83.5 228.3h.9v.9h-.9zM80.6 234.8h.9v.9h-.9zM82.4 227.0h.9v.9h-.9zM80.1 230.8h.9v.9h-.9zM80.2 230.9h.9v.9h-.9zM80.6 234.0h.9v.9h-.9zM79.6 227.0h.9v.9h-.9zM82.2 229.8h.9v.9h-.9zM84.3 230.1h.9v.9h-.9zM81.7 239.5h.9v.9h-.9zM85.4 221.1h.9v.9h-.9zM77.2 230.3h.9v.9h-.9zM80.4 228.6h.9v.9h-.9zM79.7 234.9h.9v.9h-.9zM86.4 220.8h.9v.9h-.9zM82.9 225.3h.9v.9h-.9zM77.5 230.2h.9v.9h-.9zM80.9 229.6h.9v.9h-.9zM86.6 236.5h.9v.9h-.9zM85.3 225.2h.9v.9h-.9zM77.1 233.9h.9v.9h-.9zM80.9 227.1h.9v.9h-.9zM80.7 227.4h.9v.9h-.9zM88.6 226.5h.9v.9h-.9zM80.8 228.1h.9v.9h-.9zM84.1 219.9h.9v.9h-.9zM77.9 222.5h.9v.9h-.9zM82.3 222.1h.9v.9h-.9zM79.9 195.1h.9v.9h-.9zM81.4 197.2h.9v.9h-.9zM78.3 196.1h.9v.9h-.9zM83.2 197.1h.9v.9h-.9zM78.9 196.6h.9v.9h-.9zM82.3 199.4h.9v.9h-.9zM78.3 199.1h.9v.9h-.9zM81.2 197.9h.9v.9h-.9zM84.0 195.3h.9v.9h-.9zM80.3 197.1h.9v.9h-.9zM84.1 196.1h.9v.9h-.9zM78.8 195.7h.9v.9h-.9z" fill="#000" fill-opacity="0.45" filter="url(#b0)"/>
<rect x="38.5" y="188.5" width="58.0" height="58.0" fill="none" stroke="#7a7a7a" stroke-width="1"/>
<line x1="67.5" y1="188.5" x2="67.5" y2="246.5" stroke="#888" stroke-width="1"/>
<line x1="38.5" y1="216.5" x2="96.5" y2="216.5" stroke="#8c8c8c" stroke-width="1"/>
<path d="M42.9 188.5v1.3M42.9 246.5v-1.3M38.5 242.1h1.3M96.5 242.1h-1.3M45.4 188.5v1.3M45.4 246.5v-1.3M38.5 239.6h1.3M96.5 239.6h-1.3M47.2 188.5v1.3M47.2 246.5v-1.3M38.5 237.8h1.3M96.5 237.8h-1.3M48.6 188.5v1.3M48.6 246.5v-1.3M38.5 236.4h1.3M96.5 236.4h-1.3M49.8 188.5v1.3M49.8 246.5v-1.3M38.5 235.2h1.3M96.5 235.2h-1.3M50.8 188.5v1.3M50.8 246.5v-1.3M38.5 234.2h1.3M96.5 234.2h-1.3M51.6 188.5v1.3M51.6 246.5v-1.3M38.5 233.4h1.3M96.5 233.4h-1.3M52.3 188.5v1.3M52.3 246.5v-1.3M38.5 232.7h1.3M96.5 232.7h-1.3M57.4 188.5v1.3M57.4 246.5v-1.3M38.5 227.6h1.3M96.5 227.6h-1.3M59.9 188.5v1.3M59.9 246.5v-1.3M38.5 225.1h1.3M96.5 225.1h-1.3M61.7 188.5v1.3M61.7 246.5v-1.3M38.5 223.3h1.3M96.5 223.3h-1.3M63.1 188.5v1.3M63.1 246.5v-1.3M38.5 221.9h1.3M96.5 221.9h-1.3M64.3 188.5v1.3M64.3 246.5v-1.3M38.5 220.7h1.3M96.5 220.7h-1.3M65.3 188.5v1.3M65.3 246.5v-1.3M38.5 219.7h1.3M96.5 219.7h-1.3M66.1 188.5v1.3M66.1 246.5v-1.3M38.5 218.9h1.3M96.5 218.9h-1.3M66.8 188.5v1.3M66.8 246.5v-1.3M38.5 218.2h1.3M96.5 218.2h-1.3M71.9 188.5v1.3M71.9 246.5v-1.3M38.5 213.1h1.3M96.5 213.1h-1.3M74.4 188.5v1.3M74.4 246.5v-1.3M38.5 210.6h1.3M96.5 210.6h-1.3M76.2 188.5v1.3M76.2 246.5v-1.3M38.5 208.8h1.3M96.5 208.8h-1.3M77.6 188.5v1.3M77.6 246.5v-1.3M38.5 207.4h1.3M96.5 207.4h-1.3M78.8 188.5v1.3M78.8 246.5v-1.3M38.5 206.2h1.3M96.5 206.2h-1.3M79.8 188.5v1.3M79.8 246.5v-1.3M38.5 205.2h1.3M96.5 205.2h-1.3M80.6 188.5v1.3M80.6 246.5v-1.3M38.5 204.4h1.3M96.5 204.4h-1.3M81.3 188.5v1.3M81.3 246.5v-1.3M38.5 203.7h1.3M96.5 203.7h-1.3M86.4 188.5v1.3M86.4 246.5v-1.3M38.5 198.6h1.3M96.5 198.6h-1.3M88.9 188.5v1.3M88.9 246.5v-1.3M38.5 196.1h1.3M96.5 196.1h-1.3M90.7 188.5v1.3M90.7 246.5v-1.3M38.5 194.3h1.3M96.5 194.3h-1.3M92.1 188.5v1.3M92.1 246.5v-1.3M38.5 192.9h1.3M96.5 192.9h-1.3M93.3 188.5v1.3M93.3 246.5v-1.3M38.5 191.7h1.3M96.5 191.7h-1.3M94.3 188.5v1.3M94.3 246.5v-1.3M38.5 190.7h1.3M96.5 190.7h-1.3M95.1 188.5v1.3M95.1 246.5v-1.3M38.5 189.9h1.3M96.5 189.9h-1.3M95.8 188.5v1.3M95.8 246.5v-1.3M38.5 189.2h1.3M96.5 189.2h-1.3" stroke="#aaa" stroke-width="0.5" fill="none"/>
<text x="38.5" y="250.1" font-size="3" fill="#888" text-anchor="middle">10<tspan font-size="2" dy="-1">0</tspan></text>
<text x="36.5" y="247.5" font-size="3" fill="#888" text-anchor="end">10<tspan font-size="2" dy="-1">0</tspan></text>
<text x="53.0" y="250.1" font-size="3" fill="#888" text-anchor="middle">10<tspan font-size="2" dy="-1">1</tspan></text>
<text x="36.5" y="233.0" font-size="3" fill="#888" text-anchor="end">10<tspan font-size="2" dy="-1">1</tspan></text>
<text x="67.5" y="250.1" font-size="3" fill="#888" text-anchor="middle">10<tspan font-size="2" dy="-1">2</tspan></text>
<text x="36.5" y="218.5" font-size="3" fill="#888" text-anchor="end">10<tspan font-size="2" dy="-1">2</tspan></text>
<text x="82.0" y="250.1" font-size="3" fill="#888" text-anchor="middle">10<tspan font-size="2" dy="-1">3</tspan></text>
<text x="36.5" y="204.0" font-size="3" fill="#888" text-anchor="end">10<tspan font-size="2" dy="-1">3</tspan></text>
<text x="96.5" y="250.1" font-size="3" fill="#888" text-anchor="middle">10<tspan font-size="2" dy="-1">4</tspan></text>
<text x="36.5" y="189.5" font-size="3" fill="#888" text-anchor="end">10<tspan font-size="2" dy="-1">4</tspan></text>
<text x="67.5" y="253.5" font-size="2.6" fill="#999" text-anchor="middle">FL1-H: FL1-Height</text>
<text transform="translate(33.0,217.5) rotate(-90)" font-size="2.6" fill="#999" text-anchor="middle">FL2-H: FL2-Height</text>
<g font-size="2.6" fill="#999"><text x="40.1" y="191.8">10.2</text><text x="95.1" y="191.8" text-anchor="end">17.4</text><text x="40.1" y="245.1">0.1</text><text x="95.1" y="245.1" text-anchor="end">72.3</text></g>
</g>
<g>
<ellipse cx="53" cy="289" rx="10" ry="4.5" transform="rotate(-35 53 289)" fill="#000" fill-opacity="0.22" filter="url(#b2)"/>
<ellipse cx="48" cy="296" rx="3" ry="5" transform="rotate(25 48 296)" fill="#000" fill-opacity="0.14" filter="url(#b2)"/>
<polygon points="64,280.6 46.5,286.6 55,291.6" fill="#000" fill-opacity="0.95" filter="url(#b1)"/>
<ellipse cx="84" cy="287" rx="3.2" ry="3.2" transform="rotate(0 84 287)" fill="#000" fill-opacity="0.1" filter="url(#b2)"/>
<ellipse cx="83.8" cy="317" rx="9.5" ry="4.5" transform="rotate(-60 83.8 317)" fill="#000" fill-opacity="0.18" filter="url(#b2)"/>
<ellipse cx="84" cy="316.3" rx="7.2" ry="3.3" transform="rotate(-58 84 316.3)" fill="#000" fill-opacity="0.95" filter="url(#b1)"/>
<path d="M56.9 290.4h.8v.8h-.8zM49.3 290.3h.8v.8h-.8zM51.5 289.4h.8v.8h-.8zM46.5 291.8h.8v.8h-.8zM54.1 288.5h.8v.8h-.8zM51.1 286.5h.8v.8h-.8zM48.3 289.5h.8v.8h-.8zM61.2 288.4h.8v.8h-.8zM57.4 291.6h.8v.8h-.8zM50.5 289.5h.8v.8h-.8zM45.7 294.8h.8v.8h-.8zM50.3 291.1h.8v.8h-.8zM55.1 286.5h.8v.8h-.8zM46.2 293.4h.8v.8h-.8zM52.4 289.4h.8v.8h-.8zM56.2 285.8h.8v.8h-.8zM54.2 294.3h.8v.8h-.8zM58.7 284.6h.8v.8h-.8zM46.7 291.7h.8v.8h-.8zM56.4 289.6h.8v.8h-.8zM66.1 278.9h.8v.8h-.8zM53.1 287.6h.8v.8h-.8zM52.7 287.8h.8v.8h-.8zM48.6 295.8h.8v.8h-.8zM55.8 291.6h.8v.8h-.8zM50.5 291.7h.8v.8h-.8zM53.5 281.8h.8v.8h-.8zM46.8 296.1h.8v.8h-.8zM50.4 284.1h.8v.8h-.8zM47.0 289.4h.8v.8h-.8zM52.9 294.7h.8v.8h-.8zM53.2 296.2h.8v.8h-.8zM50.4 288.2h.8v.8h-.8zM63.6 285.1h.8v.8h-.8zM64.2 288.2h.8v.8h-.8zM61.2 287.7h.8v.8h-.8zM42.0 293.8h.8v.8h-.8zM56.0 287.7h.8v.8h-.8zM56.5 284.9h.8v.8h-.8zM63.0 289.4h.8v.8h-.8zM58.0 288.7h.8v.8h-.8zM57.8 289.2h.8v.8h-.8zM53.7 286.9h.8v.8h-.8zM54.6 288.4h.8v.8h-.8zM45.1 295.6h.8v.8h-.8zM53.9 289.3h.8v.8h-.8zM51.1 292.3h.8v.8h-.8zM55.7 284.7h.8v.8h-.8zM56.5 289.5h.8v.8h-.8zM56.0 283.7h.8v.8h-.8zM47.6 293.1h.8v.8h-.8zM51.6 299.2h.8v.8h-.8zM47.3 290.2h.8v.8h-.8zM56.0 285.2h.8v.8h-.8zM46.6 291.6h.8v.8h-.8zM42.3 293.2h.8v.8h-.8zM51.8 289.5h.8v.8h-.8zM45.3 291.7h.8v.8h-.8zM48.2 292.8h.8v.8h-.8zM49.7 286.6h.8v.8h-.8zM55.1 284.8h.8v.8h-.8zM53.3 285.3h.8v.8h-.8zM54.1 287.6h.8v.8h-.8zM53.8 290.1h.8v.8h-.8zM55.3 287.7h.8v.8h-.8zM51.3 285.4h.8v.8h-.8zM48.5 284.1h.8v.8h-.8zM53.8 293.6h.8v.8h-.8zM58.2 289.1h.8v.8h-.8zM51.6 291.4h.8v.8h-.8zM60.1 285.8h.8v.8h-.8zM54.8 287.9h.8v.8h-.8zM45.9 290.6h.8v.8h-.8zM45.3 295.7h.8v.8h-.8zM50.0 288.5h.8v.8h-.8zM53.8 286.3h.8v.8h-.8zM61.9 289.5h.8v.8h-.8zM54.2 285.6h.8v.8h-.8zM47.8 299.9h.8v.8h-.8zM53.4 284.4h.8v.8h-.8zM56.1 280.7h.8v.8h-.8zM49.9 290.2h.8v.8h-.8zM48.9 287.7h.8v.8h-.8zM65.7 278.6h.8v.8h-.8zM55.1 287.6h.8v.8h-.8zM42.8 294.1h.8v.8h-.8zM55.6 290.5h.8v.8h-.8zM51.5 291.3h.8v.8h-.8zM46.1 297.6h.8v.8h-.8zM47.3 293.1h.8v.8h-.8zM42.1 288.5h.8v.8h-.8zM45.8 305.0h.8v.8h-.8zM47.2 292.7h.8v.8h-.8zM48.8 297.6h.8v.8h-.8zM46.7 294.6h.8v.8h-.8zM45.9 297.7h.8v.8h-.8zM47.2 303.3h.8v.8h-.8zM49.3 299.5h.8v.8h-.8zM46.8 299.5h.8v.8h-.8zM41.7 302.5h.8v.8h-.8zM46.4 301.4h.8v.8h-.8zM44.1 298.7h.8v.8h-.8zM49.4 295.8h.8v.8h-.8zM47.7 292.0h.8v.8h-.8zM50.8 302.7h.8v.8h-.8zM48.0 296.8h.8v.8h-.8zM49.1 288.5h.8v.8h-.8zM44.2 291.5h.8v.8h-.8zM49.6 291.6h.8v.8h-.8zM49.3 298.9h.8v.8h-.8zM51.4 289.8h.8v.8h-.8zM47.5 295.6h.8v.8h-.8zM80.2 280.5h.8v.8h-.8zM89.7 288.9h.8v.8h-.8zM82.8 291.8h.8v.8h-.8zM87.3 288.3h.8v.8h-.8zM84.7 289.3h.8v.8h-.8zM88.4 287.2h.8v.8h-.8zM83.3 288.7h.8v.8h-.8zM75.6 287.3h.8v.8h-.8zM82.7 317.5h.8v.8h-.8zM84.5 319.3h.8v.8h-.8zM84.3 317.2h.8v.8h-.8zM85.0 320.0h.8v.8h-.8zM85.9 323.7h.8v.8h-.8zM80.1 320.8h.8v.8h-.8zM80.5 308.6h.8v.8h-.8zM87.3 325.7h.8v.8h-.8zM80.4 311.8h.8v.8h-.8zM77.2 323.5h.8v.8h-.8zM86.2 320.5h.8v.8h-.8zM89.1 313.9h.8v.8h-.8zM81.7 312.6h.8v.8h-.8zM83.5 316.9h.8v.8h-.8zM87.7 319.2h.8v.8h-.8zM80.2 315.3h.8v.8h-.8zM84.0 309.1h.8v.8h-.8zM91.4 325.7h.8v.8h-.8zM86.4 317.6h.8v.8h-.8zM88.6 317.1h.8v.8h-.8zM83.1 315.8h.8v.8h-.8zM89.2 319.5h.8v.8h-.8zM86.6 312.6h.8v.8h-.8zM81.5 314.8h.8v.8h-.8zM82.1 312.4h.8v.8h-.8zM87.4 317.7h.8v.8h-.8zM70.9 300.5h.8v.8h-.8zM84.1 328.5h.8v.8h-.8zM84.2 318.0h.8v.8h-.8zM84.1 320.0h.8v.8h-.8zM71.8 307.7h.8v.8h-.8zM79.8 319.8h.8v.8h-.8zM87.3 318.8h.8v.8h-.8zM79.0 309.4h.8v.8h-.8zM84.9 314.1h.8v.8h-.8zM83.5 316.6h.8v.8h-.8zM80.0 313.3h.8v.8h-.8zM77.7 310.0h.8v.8h-.8zM83.8 315.6h.8v.8h-.8zM80.1 304.5h.8v.8h-.8zM86.6 314.8h.8v.8h-.8zM80.5 312.3h.8v.8h-.8zM76.4 309.1h.8v.8h-.8zM85.4 314.3h.8v.8h-.8zM88.5 320.9h.8v.8h-.8zM81.6 316.3h.8v.8h-.8zM86.5 323.7h.8v.8h-.8zM84.7 317.8h.8v.8h-.8zM85.4 315.4h.8v.8h-.8zM85.8 308.3h.8v.8h-.8zM92.0 323.6h.8v.8h-.8zM83.8 323.9h.8v.8h-.8zM87.6 321.9h.8v.8h-.8zM81.5 320.3h.8v.8h-.8zM80.1 316.5h.8v.8h-.8zM87.0 314.1h.8v.8h-.8zM73.1 311.9h.8v.8h-.8zM84.4 324.9h.8v.8h-.8zM76.5 308.6h.8v.8h-.8zM87.6 316.8h.8v.8h-.8zM81.9 311.6h.8v.8h-.8zM87.1 314.1h.8v.8h-.8zM74.7 313.1h.8v.8h-.8zM81.0 317.3h.8v.8h-.8zM83.2 311.4h.8v.8h-.8zM90.0 331.3h.8v.8h-.8zM82.2 313.7h.8v.8h-.8zM79.5 309.4h.8v.8h-.8zM88.6 322.1h.8v.8h-.8zM85.8 323.9h.8v.8h-.8zM84.1 319.2h.8v.8h-.8zM79.1 313.3h.8v.8h-.8zM80.7 320.6h.8v.8h-.8zM82.2 315.9h.8v.8h-.8zM76.8 311.6h.8v.8h-.8zM83.8 320.8h.8v.8h-.8zM82.2 312.4h.8v.8h-.8zM90.7 327.2h.8v.8h-.8zM91.2 329.1h.8v.8h-.8zM89.6 324.4h.8v.8h-.8zM78.9 328.9h.8v.8h-.8zM77.6 326.6h.8v.8h-.8zM79.3 321.0h.8v.8h-.8zM77.3 328.8h.8v.8h-.8zM81.0 329.2h.8v.8h-.8zM80.4 318.7h.8v.8h-.8zM80.5 324.6h.8v.8h-.8zM79.0 324.9h.8v.8h-.8zM78.5 323.6h.8v.8h-.8zM82.5 327.1h.8v.8h-.8zM78.7 324.9h.8v.8h-.8zM81.9 326.9h.8v.8h-.8zM80.4 322.9h.8v.8h-.8zM79.1 323.1h.8v.8h-.8zM76.2 328.2h.8v.8h-.8zM72.8 300.3h.8v.8h-.8zM57.4 302.2h.8v.8h-.8zM51.6 303.5h.8v.8h-.8zM87.2 287.8h.8v.8h-.8zM76.3 329.6h.8v.8h-.8zM54.7 327.4h.8v.8h-.8zM53.2 312.1h.8v.8h-.8zM68.8 283.4h.8v.8h-.8zM77.1 314.9h.8v.8h-.8zM84.2 321.4h.8v.8h-.8zM68.4 296.3h.8v.8h-.8zM55.5 286.5h.8v.8h-.8zM79.4 317.0h.8v.8h-.8zM48.8 312.2h.8v.8h-.8zM51.1 299.3h.8v.8h-.8zM62.3 294.1h.8v.8h-.8zM73.0 327.7h.8v.8h-.8zM42.6 283.1h.8v.8h-.8zM49.1 294.9h.8v.8h-.8zM81.1 303.9h.8v.8h-.8z" fill="#000" fill-opacity="0.28" filter="url(#b0)"/>
<path d="M85.7 316.9h.9v.9h-.9zM89.8 308.8h.9v.9h-.9zM79.9 321.1h.9v.9h-.9zM87.5 312.8h.9v.9h-.9zM86.2 316.7h.9v.9h-.9zM89.7 310.6h.9v.9h-.9zM82.0 317.0h.9v.9h-.9zM83.0 319.1h.9v.9h-.9zM84.6 315.2h.9v.9h-.9zM82.5 320.8h.9v.9h-.9zM81.7 312.7h.9v.9h-.9zM83.1 316.6h.9v.9h-.9zM90.0 311.3h.9v.9h-.9zM90.2 308.8h.9v.9h-.9zM83.9 312.7h.9v.9h-.9zM85.2 313.0h.9v.9h-.9zM83.9 313.9h.9v.9h-.9zM88.8 307.2h.9v.9h-.9zM82.3 312.3h.9v.9h-.9zM82.2 321.5h.9v.9h-.9zM89.7 320.4h.9v.9h-.9zM81.8 316.0h.9v.9h-.9zM85.1 317.7h.9v.9h-.9zM82.1 314.3h.9v.9h-.9zM88.0 309.6h.9v.9h-.9zM78.0 320.2h.9v.9h-.9zM78.8 314.0h.9v.9h-.9zM79.4 322.3h.9v.9h-.9zM87.8 313.0h.9v.9h-.9zM88.3 315.2h.9v.9h-.9zM83.4 326.5h.9v.9h-.9zM81.6 319.7h.9v.9h-.9zM87.0 312.2h.9v.9h-.9zM85.0 319.6h.9v.9h-.9zM82.7 322.3h.9v.9h-.9zM84.0 322.9h.9v.9h-.9zM83.6 316.5h.9v.9h-.9zM85.2 316.2h.9v.9h-.9zM78.1 324.6h.9v.9h-.9zM79.6 325.7h.9v.9h-.9zM82.5 315.1h.9v.9h-.9zM84.2 313.9h.9v.9h-.9zM83.8 315.3h.9v.9h-.9zM77.9 324.0h.9v.9h-.9zM87.6 313.7h.9v.9h-.9zM80.7 319.0h.9v.9h-.9zM86.9 314.2h.9v.9h-.9zM90.1 310.9h.9v.9h-.9zM78.0 323.6h.9v.9h-.9zM79.1 311.9h.9v.9h-.9zM86.5 316.9h.9v.9h-.9zM84.9 311.2h.9v.9h-.9zM83.5 307.4h.9v.9h-.9zM85.8 313.7h.9v.9h-.9zM84.4 315.6h.9v.9h-.9zM89.4 309.0h.9v.9h-.9zM84.3 314.3h.9v.9h-.9zM85.9 311.8h.9v.9h-.9zM77.6 316.3h.9v.9h-.9zM78.9 328.3h.9v.9h-.9zM80.8 324.8h.9v.9h-.9zM86.3 315.3h.9v.9h-.9zM88.4 311.6h.9v.9h-.9zM84.8 316.1h.9v.9h-.9zM78.3 320.6h.9v.9h-.9zM85.0 319.9h.9v.9h-.9zM81.0 325.0h.9v.9h-.9zM87.6 309.9h.9v.9h-.9zM80.0 318.3h.9v.9h-.9zM88.8 309.7h.9v.9h-.9zM86.2 319.0h.9v.9h-.9zM84.1 323.7h.9v.9h-.9zM82.8 316.2h.9v.9h-.9zM84.9 311.5h.9v.9h-.9zM81.9 318.3h.9v.9h-.9zM89.4 314.0h.9v.9h-.9zM85.3 317.5h.9v.9h-.9zM80.3 321.3h.9v.9h-.9zM79.3 322.3h.9v.9h-.9zM85.9 311.7h.9v.9h-.9zM89.8 310.7h.9v.9h-.9zM82.0 314.0h.9v.9h-.9zM84.8 315.2h.9v.9h-.9zM83.7 307.7h.9v.9h-.9zM83.5 319.6h.9v.9h-.9zM81.1 316.4h.9v.9h-.9zM81.5 321.5h.9v.9h-.9zM78.2 322.3h.9v.9h-.9zM79.2 322.8h.9v.9h-.9zM88.9 313.0h.9v.9h-.9zM82.5 317.4h.9v.9h-.9zM90.1 311.4h.9v.9h-.9zM81.1 318.7h.9v.9h-.9zM88.0 312.3h.9v.9h-.9zM80.8 317.3h.9v.9h-.9zM81.1 316.2h.9v.9h-.9zM85.9 317.8h.9v.9h-.9zM74.9 318.4h.9v.9h-.9zM82.3 324.6h.9v.9h-.9zM90.7 309.8h.9v.9h-.9zM86.0 320.0h.9v.9h-.9zM86.4 317.0h.9v.9h-.9zM84.1 315.1h.9v.9h-.9zM86.5 319.9h.9v.9h-.9zM87.3 310.3h.9v.9h-.9zM84.9 317.2h.9v.9h-.9zM81.4 321.3h.9v.9h-.9zM85.5 317.5h.9v.9h-.9zM84.2 317.2h.9v.9h-.9zM83.5 320.7h.9v.9h-.9zM86.8 312.7h.9v.9h-.9zM83.1 321.8h.9v.9h-.9zM80.6 316.9h.9v.9h-.9zM89.5 305.8h.9v.9h-.9zM81.1 320.8h.9v.9h-.9zM84.5 312.2h.9v.9h-.9zM89.3 312.7h.9v.9h-.9zM82.9 313.7h.9v.9h-.9zM83.5 320.2h.9v.9h-.9zM83.8 314.3h.9v.9h-.9z" fill="#000" fill-opacity="0.45" filter="url(#b0)"/>
<rect x="40.5" y="277.5" width="58.0" height="55.0" fill="none" stroke="#7a7a7a" stroke-width="1"/>
<line x1="68.5" y1="277.5" x2="68.5" y2="332.5" stroke="#888" stroke-width="1"/>
<line x1="40.5" y1="302.5" x2="98.5" y2="302.5" stroke="#8c8c8c" stroke-width="1"/>
<path d="M44.9 277.5v1.3M44.9 332.5v-1.3M40.5 328.4h1.3M98.5 328.4h-1.3M47.4 277.5v1.3M47.4 332.5v-1.3M40.5 325.9h1.3M98.5 325.9h-1.3M49.2 277.5v1.3M49.2 332.5v-1.3M40.5 324.2h1.3M98.5 324.2h-1.3M50.6 277.5v1.3M50.6 332.5v-1.3M40.5 322.9h1.3M98.5 322.9h-1.3M51.8 277.5v1.3M51.8 332.5v-1.3M40.5 321.8h1.3M98.5 321.8h-1.3M52.8 277.5v1.3M52.8 332.5v-1.3M40.5 320.9h1.3M98.5 320.9h-1.3M53.6 277.5v1.3M53.6 332.5v-1.3M40.5 320.1h1.3M98.5 320.1h-1.3M54.3 277.5v1.3M54.3 332.5v-1.3M40.5 319.4h1.3M98.5 319.4h-1.3M59.4 277.5v1.3M59.4 332.5v-1.3M40.5 314.6h1.3M98.5 314.6h-1.3M61.9 277.5v1.3M61.9 332.5v-1.3M40.5 312.2h1.3M98.5 312.2h-1.3M63.7 277.5v1.3M63.7 332.5v-1.3M40.5 310.5h1.3M98.5 310.5h-1.3M65.1 277.5v1.3M65.1 332.5v-1.3M40.5 309.1h1.3M98.5 309.1h-1.3M66.3 277.5v1.3M66.3 332.5v-1.3M40.5 308.1h1.3M98.5 308.1h-1.3M67.3 277.5v1.3M67.3 332.5v-1.3M40.5 307.1h1.3M98.5 307.1h-1.3M68.1 277.5v1.3M68.1 332.5v-1.3M40.5 306.3h1.3M98.5 306.3h-1.3M68.8 277.5v1.3M68.8 332.5v-1.3M40.5 305.6h1.3M98.5 305.6h-1.3M73.9 277.5v1.3M73.9 332.5v-1.3M40.5 300.9h1.3M98.5 300.9h-1.3M76.4 277.5v1.3M76.4 332.5v-1.3M40.5 298.4h1.3M98.5 298.4h-1.3M78.2 277.5v1.3M78.2 332.5v-1.3M40.5 296.7h1.3M98.5 296.7h-1.3M79.6 277.5v1.3M79.6 332.5v-1.3M40.5 295.4h1.3M98.5 295.4h-1.3M80.8 277.5v1.3M80.8 332.5v-1.3M40.5 294.3h1.3M98.5 294.3h-1.3M81.8 277.5v1.3M81.8 332.5v-1.3M40.5 293.4h1.3M98.5 293.4h-1.3M82.6 277.5v1.3M82.6 332.5v-1.3M40.5 292.6h1.3M98.5 292.6h-1.3M83.3 277.5v1.3M83.3 332.5v-1.3M40.5 291.9h1.3M98.5 291.9h-1.3M88.4 277.5v1.3M88.4 332.5v-1.3M40.5 287.1h1.3M98.5 287.1h-1.3M90.9 277.5v1.3M90.9 332.5v-1.3M40.5 284.7h1.3M98.5 284.7h-1.3M92.7 277.5v1.3M92.7 332.5v-1.3M40.5 283.0h1.3M98.5 283.0h-1.3M94.1 277.5v1.3M94.1 332.5v-1.3M40.5 281.6h1.3M98.5 281.6h-1.3M95.3 277.5v1.3M95.3 332.5v-1.3M40.5 280.6h1.3M98.5 280.6h-1.3M96.3 277.5v1.3M96.3 332.5v-1.3M40.5 279.6h1.3M98.5 279.6h-1.3M97.1 277.5v1.3M97.1 332.5v-1.3M40.5 278.8h1.3M98.5 278.8h-1.3M97.8 277.5v1.3M97.8 332.5v-1.3M40.5 278.1h1.3M98.5 278.1h-1.3" stroke="#aaa" stroke-width="0.5" fill="none"/>
<text x="40.5" y="336.1" font-size="3" fill="#888" text-anchor="middle">10<tspan font-size="2" dy="-1">0</tspan></text>
<text x="38.5" y="333.5" font-size="3" fill="#888" text-anchor="end">10<tspan font-size="2" dy="-1">0</tspan></text>
<text x="55.0" y="336.1" font-size="3" fill="#888" text-anchor="middle">10<tspan font-size="2" dy="-1">1</tspan></text>
<text x="38.5" y="319.8" font-size="3" fill="#888" text-anchor="end">10<tspan font-size="2" dy="-1">1</tspan></text>
<text x="69.5" y="336.1" font-size="3" fill="#888" text-anchor="middle">10<tspan font-size="2" dy="-1">2</tspan></text>
<text x="38.5" y="306.0" font-size="3" fill="#888" text-anchor="end">10<tspan font-size="2" dy="-1">2</tspan></text>
<text x="84.0" y="336.1" font-size="3" fill="#888" text-anchor="middle">10<tspan font-size="2" dy="-1">3</tspan></text>
<text x="38.5" y="292.2" font-size="3" fill="#888" text-anchor="end">10<tspan font-size="2" dy="-1">3</tspan></text>
<text x="98.5" y="336.1" font-size="3" fill="#888" text-anchor="middle">10<tspan font-size="2" dy="-1">4</tspan></text>
<text x="38.5" y="278.5" font-size="3" fill="#888" text-anchor="end">10<tspan font-size="2" dy="-1">4</tspan></text>
<text x="69.5" y="339.5" font-size="2.6" fill="#999" text-anchor="middle">FL1-H</text>
<text transform="translate(35.0,305.0) rotate(-90)" font-size="2.6" fill="#999" text-anchor="middle">FL2-H</text>
<g font-size="2.6" fill="#999"><text x="42.1" y="280.8">10.2</text><text x="97.1" y="280.8" text-anchor="end">17.4</text><text x="42.1" y="331.1">0.1</text><text x="97.1" y="331.1" text-anchor="end">72.3</text></g>
</g>
<text x="353.6" y="71.5" font-size="8.6" font-weight="bold" font-style="normal" text-anchor="middle" fill="#000" textLength="139.4" lengthAdjust="spacingAndGlyphs" >Jurkat T-cells (CD3/TCR/PKH26)</text>
<text x="354.7" y="82.0" font-size="8.6" font-weight="bold" font-style="normal" text-anchor="middle" fill="#000" textLength="123.2" lengthAdjust="spacingAndGlyphs" >+ Daudi B-cells (CD19/CFSE)</text>
<g stroke="#000" stroke-width="1.1" fill="none">
<line x1="288.5" y1="93" x2="288.5" y2="189"/>
<line x1="285.8" y1="188.5" x2="432" y2="188.5"/>
<line x1="285.8" y1="164.5" x2="288.5" y2="164.5"/>
<line x1="285.8" y1="140.8" x2="288.5" y2="140.8"/>
<line x1="285.8" y1="117.2" x2="288.5" y2="117.2"/>
<line x1="285.8" y1="93.5" x2="288.5" y2="93.5"/>
<line x1="297.5" y1="188.5" x2="297.5" y2="191.8"/>
<line x1="315.4" y1="188.5" x2="315.4" y2="191.8"/>
<line x1="333.2" y1="188.5" x2="333.2" y2="191.8"/>
<line x1="351.1" y1="188.5" x2="351.1" y2="191.8"/>
<line x1="368.9" y1="188.5" x2="368.9" y2="191.8"/>
<line x1="386.8" y1="188.5" x2="386.8" y2="191.8"/>
<line x1="404.6" y1="188.5" x2="404.6" y2="191.8"/>
<line x1="422.5" y1="188.5" x2="422.5" y2="191.8"/>
</g>
<text x="285.3" y="190.9" font-size="7.6" font-weight="normal" font-style="normal" text-anchor="end" fill="#000" >0</text>
<text x="285.3" y="167.2" font-size="7.6" font-weight="normal" font-style="normal" text-anchor="end" fill="#000" >5</text>
<text x="285.3" y="143.5" font-size="7.6" font-weight="normal" font-style="normal" text-anchor="end" fill="#000" >10</text>
<text x="285.3" y="119.9" font-size="7.6" font-weight="normal" font-style="normal" text-anchor="end" fill="#000" >15</text>
<text x="285.3" y="96.2" font-size="7.6" font-weight="normal" font-style="normal" text-anchor="end" fill="#000" >20</text>
<text transform="translate(271.8,141) rotate(-90)" font-size="8" font-weight="bold" text-anchor="middle" textLength="122" lengthAdjust="spacingAndGlyphs">% positive cells (CFSE+PKH26+)</text>
<text transform="translate(299.6,198.4) rotate(-45)" font-size="7.2" font-weight="bold" text-anchor="end">0.0005</text>
<text transform="translate(317.5,198.4) rotate(-45)" font-size="7.2" font-weight="bold" text-anchor="end">0.0014</text>
<text transform="translate(335.3,198.4) rotate(-45)" font-size="7.2" font-weight="bold" text-anchor="end">0.0041</text>
<text transform="translate(353.2,198.4) rotate(-45)" font-size="7.2" font-weight="bold" text-anchor="end">0.0123</text>
<text transform="translate(371.0,198.4) rotate(-45)" font-size="7.2" font-weight="bold" text-anchor="end">0.0370</text>
<text transform="translate(388.9,198.4) rotate(-45)" font-size="7.2" font-weight="bold" text-anchor="end">0.1111</text>
<text transform="translate(406.7,198.4) rotate(-45)" font-size="7.2" font-weight="bold" text-anchor="end">0.3333</text>
<text transform="translate(424.6,198.4) rotate(-45)" font-size="7.2" font-weight="bold" text-anchor="end">1.0000</text>
<text x="356.4" y="222.9" font-size="8" font-weight="bold" font-style="normal" text-anchor="middle" fill="#000" textLength="83.3" lengthAdjust="spacingAndGlyphs" >concentration (ug/mL)</text>
<g stroke="#000" stroke-width="1.05" fill="none">
<polyline points="297.5,163.8 315.4,143.2 333.2,116.9 351.1,104.7 368.9,100.7 386.8,102.5 404.6,108.2 422.5,109.9"/>
<polyline points="297.5,164.5 315.4,148.4 333.2,127.8 351.1,119.1 368.9,116.7 386.8,118.6 404.6,122.9 422.5,129.5"/>
<polyline points="297.5,179.6 315.4,176.9 333.2,169.3 351.1,157.5 368.9,158.5 386.8,157.5 404.6,156.6 422.5,156.2"/>
<polyline points="297.5,183.3 315.4,183.3 333.2,183.3 351.1,183.3 368.9,183.3 386.8,183.3 404.6,183.3 422.5,183.0"/>
<polyline points="297.5,183.3 315.4,183.3 333.2,183.3 351.1,183.3 368.9,183.3 386.8,183.3 404.6,183.3 422.5,182.8"/>
</g>
<g stroke="#000" stroke-width="1.4"><line x1="297.5" y1="178.2" x2="297.5" y2="181.0"/><line x1="294.6" y1="178.2" x2="300.4" y2="178.2"/><line x1="294.6" y1="181.0" x2="300.4" y2="181.0"/></g>
<g stroke="#000" stroke-width="1.4"><line x1="351.1" y1="153.2" x2="351.1" y2="161.8"/><line x1="348.2" y1="153.2" x2="354.0" y2="153.2"/><line x1="348.2" y1="161.8" x2="354.0" y2="161.8"/></g>
<g stroke="#000" stroke-width="1.4"><line x1="368.9" y1="154.3" x2="368.9" y2="162.7"/><line x1="366.0" y1="154.3" x2="371.8" y2="154.3"/><line x1="366.0" y1="162.7" x2="371.8" y2="162.7"/></g>
<g stroke="#000" stroke-width="1.4"><line x1="386.8" y1="153.6" x2="386.8" y2="161.4"/><line x1="383.9" y1="153.6" x2="389.7" y2="153.6"/><line x1="383.9" y1="161.4" x2="389.7" y2="161.4"/></g>
<g stroke="#000" stroke-width="1.4"><line x1="404.6" y1="152.9" x2="404.6" y2="160.3"/><line x1="401.7" y1="152.9" x2="407.5" y2="152.9"/><line x1="401.7" y1="160.3" x2="407.5" y2="160.3"/></g>
<g stroke="#000" stroke-width="1.4"><line x1="422.5" y1="153.8" x2="422.5" y2="158.6"/><line x1="419.6" y1="153.8" x2="425.4" y2="153.8"/><line x1="419.6" y1="158.6" x2="425.4" y2="158.6"/></g>
<g stroke="#000" stroke-width="1.4"><line x1="297.5" y1="160.7" x2="297.5" y2="167.5"/><line x1="294.6" y1="160.7" x2="300.4" y2="160.7"/><line x1="294.6" y1="167.5" x2="300.4" y2="167.5"/></g>
<g stroke="#000" stroke-width="1.4"><line x1="351.1" y1="115.7" x2="351.1" y2="122.5"/><line x1="348.2" y1="115.7" x2="354.0" y2="115.7"/><line x1="348.2" y1="122.5" x2="354.0" y2="122.5"/></g>
<g stroke="#000" stroke-width="1.4"><line x1="315.4" y1="146.0" x2="315.4" y2="150.8"/><line x1="312.5" y1="146.0" x2="318.3" y2="146.0"/><line x1="312.5" y1="150.8" x2="318.3" y2="150.8"/></g>
<g stroke="#000" stroke-width="1.4"><line x1="333.2" y1="125.1" x2="333.2" y2="130.5"/><line x1="330.3" y1="125.1" x2="336.1" y2="125.1"/><line x1="330.3" y1="130.5" x2="336.1" y2="130.5"/></g>
<g stroke="#000" stroke-width="1.4"><line x1="422.5" y1="125.7" x2="422.5" y2="133.3"/><line x1="419.6" y1="125.7" x2="425.4" y2="125.7"/><line x1="419.6" y1="133.3" x2="425.4" y2="133.3"/></g>
<polygon points="297.5,181.2 299.4,183.3 297.5,185.4 295.6,183.3" fill="none" stroke="#000" stroke-width="1.4"/>
<rect x="295.5" y="181.3" width="4.0" height="4.0" fill="none" stroke="#000" stroke-width="1.45"/>
<circle cx="297.5" cy="179.6" r="2.3" fill="#000"/>
<polygon points="297.5,162.1 299.9,166.5 295.1,166.5" fill="#fff" stroke="#000" stroke-width="1.45" stroke-linejoin="miter"/>
<circle cx="297.5" cy="163.8" r="2.5" fill="#000"/>
<polygon points="315.4,181.2 317.3,183.3 315.4,185.4 313.5,183.3" fill="none" stroke="#000" stroke-width="1.4"/>
<rect x="313.4" y="181.3" width="4.0" height="4.0" fill="none" stroke="#000" stroke-width="1.45"/>
<circle cx="315.4" cy="176.9" r="2.3" fill="#000"/>
<polygon points="315.4,146.0 317.7,150.4 313.0,150.4" fill="#fff" stroke="#000" stroke-width="1.45" stroke-linejoin="miter"/>
<circle cx="315.4" cy="143.2" r="2.5" fill="#000"/>
<polygon points="333.2,181.2 335.1,183.3 333.2,185.4 331.3,183.3" fill="none" stroke="#000" stroke-width="1.4"/>
<rect x="331.2" y="181.3" width="4.0" height="4.0" fill="none" stroke="#000" stroke-width="1.45"/>
<circle cx="333.2" cy="169.3" r="2.3" fill="#000"/>
<polygon points="333.2,125.3 335.6,129.8 330.9,129.8" fill="#fff" stroke="#000" stroke-width="1.45" stroke-linejoin="miter"/>
<circle cx="333.2" cy="116.9" r="2.5" fill="#000"/>
<polygon points="351.1,181.2 353.0,183.3 351.1,185.4 349.2,183.3" fill="none" stroke="#000" stroke-width="1.4"/>
<rect x="349.1" y="181.3" width="4.0" height="4.0" fill="none" stroke="#000" stroke-width="1.45"/>
<circle cx="351.1" cy="157.5" r="2.3" fill="#000"/>
<polygon points="351.1,116.6 353.4,121.1 348.7,121.1" fill="#fff" stroke="#000" stroke-width="1.45" stroke-linejoin="miter"/>
<circle cx="351.1" cy="104.7" r="2.5" fill="#000"/>
<polygon points="368.9,181.2 370.8,183.3 368.9,185.4 367.0,183.3" fill="none" stroke="#000" stroke-width="1.4"/>
<rect x="366.9" y="181.3" width="4.0" height="4.0" fill="none" stroke="#000" stroke-width="1.45"/>
<circle cx="368.9" cy="158.5" r="2.3" fill="#000"/>
<polygon points="368.9,114.2 371.3,118.7 366.6,118.7" fill="#fff" stroke="#000" stroke-width="1.45" stroke-linejoin="miter"/>
<circle cx="368.9" cy="100.7" r="2.5" fill="#000"/>
<polygon points="386.8,181.2 388.7,183.3 386.8,185.4 384.9,183.3" fill="none" stroke="#000" stroke-width="1.4"/>
<rect x="384.8" y="181.3" width="4.0" height="4.0" fill="none" stroke="#000" stroke-width="1.45"/>
<circle cx="386.8" cy="157.5" r="2.3" fill="#000"/>
<polygon points="386.8,116.1 389.1,120.6 384.4,120.6" fill="#fff" stroke="#000" stroke-width="1.45" stroke-linejoin="miter"/>
<circle cx="386.8" cy="102.5" r="2.5" fill="#000"/>
<polygon points="404.6,181.2 406.5,183.3 404.6,185.4 402.7,183.3" fill="none" stroke="#000" stroke-width="1.4"/>
<rect x="402.6" y="181.3" width="4.0" height="4.0" fill="none" stroke="#000" stroke-width="1.45"/>
<circle cx="404.6" cy="156.6" r="2.3" fill="#000"/>
<polygon points="404.6,120.4 407.0,124.9 402.3,124.9" fill="#fff" stroke="#000" stroke-width="1.45" stroke-linejoin="miter"/>
<circle cx="404.6" cy="108.2" r="2.5" fill="#000"/>
<polygon points="422.5,180.7 424.4,182.8 422.5,184.8 420.6,182.8" fill="none" stroke="#000" stroke-width="1.4"/>
<rect x="420.5" y="181.0" width="4.0" height="4.0" fill="none" stroke="#000" stroke-width="1.45"/>
<circle cx="422.5" cy="156.2" r="2.3" fill="#000"/>
<polygon points="422.5,127.0 424.8,131.5 420.1,131.5" fill="#fff" stroke="#000" stroke-width="1.45" stroke-linejoin="miter"/>
<circle cx="422.5" cy="109.9" r="2.5" fill="#000"/>
<line x1="443.0" y1="110.7" x2="454.0" y2="110.7" stroke="#000" stroke-width="1.1"/>
<circle cx="448.5" cy="110.7" r="2.5" fill="#000"/>
<text x="459.7" y="113.2" font-size="7" font-weight="bold" font-style="normal" text-anchor="start" fill="#000" >CD19xCD3 DART</text>
<line x1="443.0" y1="121.9" x2="454.0" y2="121.9" stroke="#000" stroke-width="1.1"/>
<polygon points="448.5,119.4 450.9,123.9 446.1,123.9" fill="#fff" stroke="#000" stroke-width="1.45" stroke-linejoin="miter"/>
<text x="459.7" y="124.4" font-size="7" font-weight="bold" font-style="normal" text-anchor="start" fill="#000" >CD19xTCR DART</text>
<line x1="443.0" y1="153.9" x2="454.0" y2="153.9" stroke="#000" stroke-width="1.1"/>
<g stroke="#000" stroke-width="1.4"><line x1="448.5" y1="151.1" x2="448.5" y2="156.7"/><line x1="446.3" y1="151.1" x2="450.7" y2="151.1"/><line x1="446.3" y1="156.7" x2="450.7" y2="156.7"/></g>
<circle cx="448.5" cy="153.9" r="2.1" fill="#000"/>
<text x="459.7" y="156.4" font-size="7" font-weight="bold" font-style="normal" text-anchor="start" fill="#000" >CD19xCD3 BiTE</text>
<line x1="443.0" y1="176.1" x2="454.0" y2="176.1" stroke="#000" stroke-width="1.1"/>
<rect x="446.5" y="174.1" width="4.0" height="4.0" fill="none" stroke="#000" stroke-width="1.45"/>
<text x="459.7" y="178.6" font-size="7" font-weight="bold" font-style="normal" text-anchor="start" fill="#000" >CD19 mAB</text>
<line x1="443.0" y1="186.7" x2="454.0" y2="186.7" stroke="#000" stroke-width="1.1"/>
<polygon points="448.5,183.9 451.0,186.7 448.5,189.4 446.0,186.7" fill="none" stroke="#000" stroke-width="1.4"/>
<text x="459.7" y="189.2" font-size="7" font-weight="bold" font-style="normal" text-anchor="start" fill="#000" >4420xTCR DART</text>
</svg>
</body></html>
